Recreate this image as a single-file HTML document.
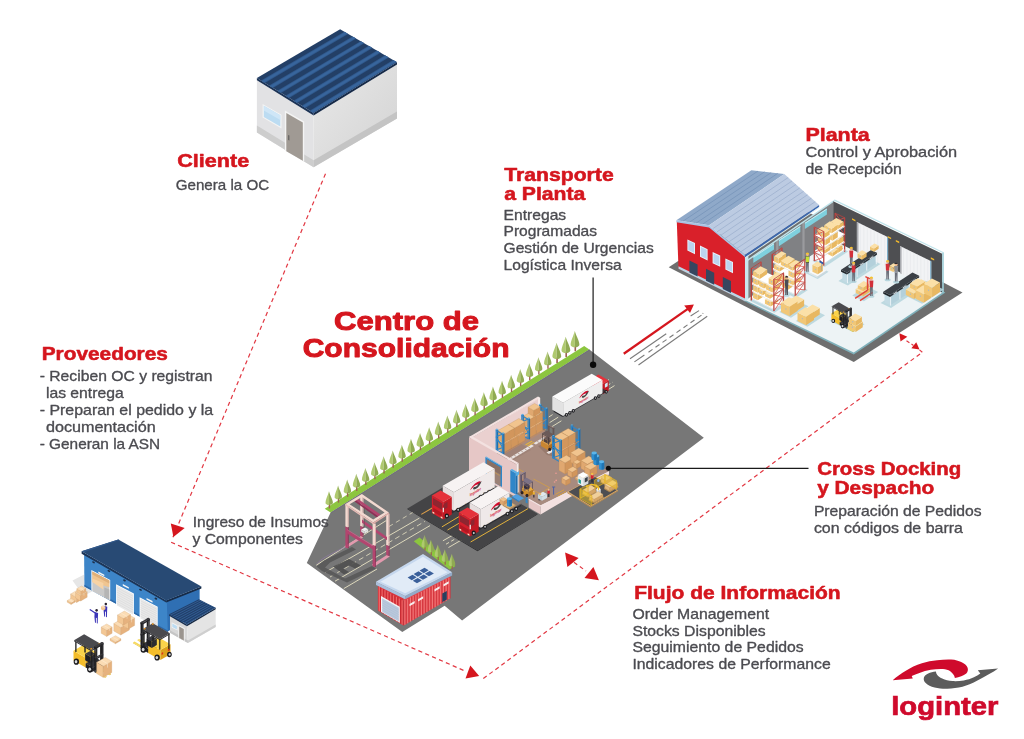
<!DOCTYPE html>
<html><head><meta charset="utf-8"><title>Centro de Consolidación</title>
<style>
html,body{margin:0;padding:0;background:#fff;}
body{width:1024px;height:739px;overflow:hidden;font-family:"Liberation Sans",sans-serif;}
svg{display:block;font-family:"Liberation Sans",sans-serif;}
</style></head><body>
<svg width="1024" height="739" viewBox="0 0 1024 739">
<rect width="1024" height="739" fill="#ffffff"/>
<line x1="325.50" y1="173.75" x2="172.60" y2="538.00" stroke="#e23843" stroke-width="1.2" stroke-dasharray="4.2 3.3"/>
<line x1="171.10" y1="542.20" x2="464.50" y2="670.80" stroke="#e23843" stroke-width="1.2" stroke-dasharray="4.2 3.3"/>
<line x1="483.30" y1="678.60" x2="922.30" y2="352.20" stroke="#e23843" stroke-width="1.2" stroke-dasharray="4.2 3.3"/>
<polygon points="170.80,523.40 184.70,528.10 173.40,537.00" fill="#d5161e"/>
<polygon points="470.30,665.40 479.20,675.90 465.50,678.60" fill="#d5161e"/>
<polygon points="899.40,333.25 907.30,336.70 900.50,341.40" fill="#d5161e"/>
<polygon points="919.50,349.40 916.25,342.30 911.40,348.25" fill="#d5161e"/>
<line x1="906.50" y1="340.70" x2="913.50" y2="345.40" stroke="#e23843" stroke-width="1.2" stroke-dasharray="3.5 2.5"/>
<line x1="919.50" y1="349.90" x2="922.30" y2="352.20" stroke="#e23843" stroke-width="1.2"/>
<polygon points="565.10,552.50 578.60,557.90 567.40,567.00" fill="#d5161e"/>
<polygon points="598.90,580.20 593.40,567.00 584.50,578.00" fill="#d5161e"/>
<line x1="574.00" y1="562.30" x2="586.00" y2="571.00" stroke="#e23843" stroke-width="1.2" stroke-dasharray="4 3.2"/>
<line x1="623.75" y1="353.75" x2="688.20" y2="308.60" stroke="#d5161e" stroke-width="2.3"/>
<polygon points="684.20,305.60 693.90,304.60 690.00,312.90" fill="#d5161e"/>
<line x1="630.00" y1="358.75" x2="666.25" y2="333.75" stroke="#7a7a7a" stroke-width="1.1"/>
<line x1="690.60" y1="316.00" x2="699.00" y2="310.60" stroke="#7a7a7a" stroke-width="1.1"/>
<path d="M634.4 361.9 L644.4 355 M648.5 352.2 L652.5 349.4 M655.5 347.3 L659.5 344.5 M662.5 342.4 L666.5 339.6 M669.5 337.5 L673.5 334.7 M676.5 332.6 L680.5 329.8 M683.5 327.7 L687.5 324.9 M690.5 322.8 L694.5 320 M697.5 317.9 L701.5 315.1 M702.6 313.6 L703.3 313.1" stroke="#7a7a7a" stroke-width="1.1" fill="none"/>
<line x1="638.50" y1="365.00" x2="707.25" y2="316.25" stroke="#7a7a7a" stroke-width="1.1"/>
<polygon points="256.90,80.30 313.60,115.40 313.60,167.30 256.90,132.60" fill="#e2e2e4"/>
<defs><linearGradient id="cgr" x1="0" y1="0" x2="1" y2="1"><stop offset="0" stop-color="#e9e9e9"/><stop offset="1" stop-color="#d2d2d2"/></linearGradient></defs>
<polygon points="313.60,115.40 397.00,64.50 397.00,118.50 313.60,167.30" fill="url(#cgr)"/>
<polygon points="256.90,125.60 313.60,160.30 313.60,167.30 256.90,132.60" fill="#cdcdcd"/>
<polygon points="313.60,160.30 397.00,111.50 397.00,118.50 313.60,167.30" fill="#c4c4c4"/>
<polygon points="262.60,103.90 281.50,114.80 281.50,128.40 262.60,117.50" fill="#f4f4f4"/>
<polygon points="263.80,105.80 280.30,115.30 280.30,126.60 263.80,117.10" fill="#bcdcf2"/>
<polygon points="263.80,105.80 280.30,115.30 280.30,120.00 263.80,110.50" fill="#cfe6f7"/>
<polygon points="284.90,110.50 304.20,121.40 304.20,161.50 284.90,150.40" fill="#f4f4f4"/>
<polygon points="286.30,112.90 302.80,122.40 302.80,160.70 286.30,151.20" fill="#a09a94"/>
<polygon points="288.30,135.00 289.30,135.60 289.30,140.60 288.30,140.00" fill="#555"/>
<polygon points="256.90,78.00 313.60,113.10 313.60,115.40 256.90,80.30" fill="#1c3356"/>
<polygon points="313.60,113.10 397.00,62.20 397.00,64.50 313.60,115.40" fill="#162a48"/>
<polygon points="340.10,29.30 397.00,62.20 313.60,113.10 256.90,78.00" fill="#233f66"/>
<polygon points="261.11,80.61 264.84,82.91 348.07,33.91 344.33,31.74" fill="#315a8e"/>
<polygon points="261.92,81.11 264.03,82.41 347.25,33.44 345.14,32.21" fill="#38659c"/>
<polygon points="269.21,85.62 272.94,87.93 356.19,38.61 352.46,36.44" fill="#315a8e"/>
<polygon points="270.02,86.12 272.13,87.43 355.38,38.14 353.27,36.91" fill="#38659c"/>
<polygon points="277.31,90.64 281.04,92.94 364.32,43.31 360.58,41.14" fill="#315a8e"/>
<polygon points="278.12,91.14 280.23,92.44 363.51,42.84 361.40,41.61" fill="#38659c"/>
<polygon points="285.41,95.65 289.14,97.96 372.45,48.01 368.71,45.84" fill="#315a8e"/>
<polygon points="286.22,96.15 288.33,97.46 371.64,47.54 369.53,46.31" fill="#38659c"/>
<polygon points="293.51,100.66 297.24,102.97 380.58,52.71 376.84,50.54" fill="#315a8e"/>
<polygon points="294.32,101.17 296.43,102.47 379.77,52.24 377.65,51.01" fill="#38659c"/>
<polygon points="301.61,105.68 305.34,107.99 388.71,57.41 384.97,55.24" fill="#315a8e"/>
<polygon points="302.42,106.18 304.53,107.48 387.90,56.94 385.78,55.71" fill="#38659c"/>
<polygon points="309.71,110.69 313.44,113.00 396.84,62.11 393.10,59.94" fill="#315a8e"/>
<polygon points="310.52,111.19 312.63,112.50 396.02,61.64 393.91,60.41" fill="#38659c"/>
<polygon points="72.50,580.60 84.20,574.40 84.40,586.60 92.50,591.20 86.50,594.50 80.00,591.00" fill="#e6e6e6"/>
<polygon points="165.80,600.60 199.60,587.40 199.60,612.00 167.00,632.00" fill="#2f6fb3"/>
<polygon points="84.10,553.00 166.80,600.80 167.80,632.00 84.40,586.40" fill="#3d85c8"/>
<polygon points="84.40,584.80 167.80,630.40 167.80,632.00 84.40,586.40" fill="#2d68a8"/>
<polygon points="91.40,570.10 110.20,580.00 110.20,600.30 91.40,590.50" fill="#ffffff"/>
<polygon points="92.30,571.40 109.30,580.40 109.30,599.80 92.30,590.90" fill="#c9c9c9"/>
<polygon points="92.30,571.40 109.30,580.40 109.30,587.19 92.30,582.12" fill="#f0c590"/>
<polygon points="92.30,571.40 109.30,580.40 109.30,583.40 92.30,574.40" fill="#e0b07a"/>
<polygon points="92.30,578.40 103.30,582.90 103.30,589.40 92.30,582.12" fill="#f7d3a5"/>
<polygon points="104.30,587.40 109.30,589.40 109.30,599.80 104.30,597.30" fill="#b5b5b5"/>
<polygon points="116.10,584.20 133.90,593.50 133.90,615.10 116.10,605.20" fill="#ffffff"/>
<polygon points="117.00,585.50 133.00,593.90 133.00,614.60 117.00,605.60" fill="#e9e9e9"/>
<line x1="117.00" y1="587.73" x2="133.00" y2="596.20" stroke="#d2d2d2" stroke-width="0.45"/>
<line x1="117.00" y1="589.97" x2="133.00" y2="598.50" stroke="#d2d2d2" stroke-width="0.45"/>
<line x1="117.00" y1="592.20" x2="133.00" y2="600.80" stroke="#d2d2d2" stroke-width="0.45"/>
<line x1="117.00" y1="594.43" x2="133.00" y2="603.10" stroke="#d2d2d2" stroke-width="0.45"/>
<line x1="117.00" y1="596.67" x2="133.00" y2="605.40" stroke="#d2d2d2" stroke-width="0.45"/>
<line x1="117.00" y1="598.90" x2="133.00" y2="607.70" stroke="#d2d2d2" stroke-width="0.45"/>
<line x1="117.00" y1="601.13" x2="133.00" y2="610.00" stroke="#d2d2d2" stroke-width="0.45"/>
<line x1="117.00" y1="603.37" x2="133.00" y2="612.30" stroke="#d2d2d2" stroke-width="0.45"/>
<polygon points="139.60,597.30 157.70,606.70 157.70,627.10 139.60,618.00" fill="#ffffff"/>
<polygon points="140.50,598.60 156.80,607.10 156.80,626.60 140.50,618.40" fill="#e9e9e9"/>
<line x1="140.50" y1="600.80" x2="156.80" y2="609.27" stroke="#d2d2d2" stroke-width="0.45"/>
<line x1="140.50" y1="603.00" x2="156.80" y2="611.43" stroke="#d2d2d2" stroke-width="0.45"/>
<line x1="140.50" y1="605.20" x2="156.80" y2="613.60" stroke="#d2d2d2" stroke-width="0.45"/>
<line x1="140.50" y1="607.40" x2="156.80" y2="615.77" stroke="#d2d2d2" stroke-width="0.45"/>
<line x1="140.50" y1="609.60" x2="156.80" y2="617.93" stroke="#d2d2d2" stroke-width="0.45"/>
<line x1="140.50" y1="611.80" x2="156.80" y2="620.10" stroke="#d2d2d2" stroke-width="0.45"/>
<line x1="140.50" y1="614.00" x2="156.80" y2="622.27" stroke="#d2d2d2" stroke-width="0.45"/>
<line x1="140.50" y1="616.20" x2="156.80" y2="624.43" stroke="#d2d2d2" stroke-width="0.45"/>
<polygon points="98.30,571.60 104.30,574.70 104.30,576.30 98.30,573.20" fill="#f7f7f7"/>
<polygon points="122.80,584.10 128.80,587.20 128.80,588.80 122.80,585.70" fill="#f7f7f7"/>
<polygon points="146.50,598.00 152.50,601.10 152.50,602.70 146.50,599.60" fill="#f7f7f7"/>
<ellipse cx="93.50" cy="562.30" rx="1.50" ry="0.90" fill="#1d2f4a" transform="rotate(28 93.50 562.30)"/>
<ellipse cx="108.90" cy="571.00" rx="1.50" ry="0.90" fill="#1d2f4a" transform="rotate(28 108.90 571.00)"/>
<ellipse cx="124.50" cy="580.40" rx="1.50" ry="0.90" fill="#1d2f4a" transform="rotate(28 124.50 580.40)"/>
<ellipse cx="140.50" cy="589.80" rx="1.50" ry="0.90" fill="#1d2f4a" transform="rotate(28 140.50 589.80)"/>
<ellipse cx="155.90" cy="598.60" rx="1.50" ry="0.90" fill="#1d2f4a" transform="rotate(28 155.90 598.60)"/>
<polygon points="81.60,551.20 166.20,600.50 166.20,602.50 81.60,553.80" fill="#1d3557"/>
<polygon points="166.20,600.50 201.40,586.40 201.40,588.60 166.20,602.50" fill="#172b47"/>
<polygon points="81.60,551.20 118.30,539.40 201.40,586.40 166.20,600.50" fill="#284a74"/>
<polygon points="81.60,551.20 118.30,539.40 119.50,540.10 83.80,552.20" fill="#31588a"/>
<polygon points="170.00,615.60 186.90,625.40 187.90,643.00 170.00,632.70" fill="#d9d9d9"/>
<polygon points="186.90,625.40 215.70,609.20 215.70,627.00 187.90,643.00" fill="#e4e4e4"/>
<polygon points="170.00,630.20 187.90,640.40 187.90,643.00 170.00,632.70" fill="#c6c6c6"/>
<polygon points="187.90,640.40 215.70,624.40 215.70,627.00 187.90,643.00" fill="#cfcfcf"/>
<polygon points="171.60,622.20 177.60,625.30 177.60,630.60 171.60,627.60" fill="#f4f4f4"/>
<polygon points="172.30,623.50 176.90,625.90 176.90,629.50 172.30,627.10" fill="#bcdcf2"/>
<polygon points="178.30,625.00 184.60,628.30 184.60,641.30 178.30,637.80" fill="#f4f4f4"/>
<polygon points="179.20,626.60 183.80,629.00 183.80,640.60 179.20,638.00" fill="#9b958f"/>
<polygon points="169.10,614.20 186.90,624.60 186.90,626.20 169.10,615.80" fill="#1a3152"/>
<polygon points="186.90,624.60 215.70,607.70 215.70,609.30 186.90,626.20" fill="#152843"/>
<polygon points="169.10,614.20 198.80,599.20 215.70,607.70 186.90,624.60" fill="#22406a"/>
<polygon points="170.21,614.85 171.10,615.37 200.70,600.16 199.86,599.73" fill="#335e95"/>
<polygon points="172.44,616.15 173.33,616.67 202.81,601.22 201.97,600.79" fill="#335e95"/>
<polygon points="174.66,617.45 175.55,617.97 204.93,602.28 204.08,601.86" fill="#335e95"/>
<polygon points="176.89,618.75 177.78,619.27 207.04,603.34 206.19,602.92" fill="#335e95"/>
<polygon points="179.11,620.05 180.00,620.57 209.15,604.41 208.31,603.98" fill="#335e95"/>
<polygon points="181.34,621.35 182.23,621.87 211.26,605.47 210.42,605.04" fill="#335e95"/>
<polygon points="183.56,622.65 184.45,623.17 213.38,606.53 212.53,606.11" fill="#335e95"/>
<polygon points="185.79,623.95 186.68,624.47 215.49,607.59 214.64,607.17" fill="#335e95"/>
<polygon points="70.60,599.00 76.66,602.50 76.66,597.50 70.60,594.00" fill="#f3c794" stroke="#ca9c6e" stroke-width="0.25"/>
<polygon points="76.66,602.50 82.72,599.00 82.72,594.00 76.66,597.50" fill="#e6b27e" stroke="#ca9c6e" stroke-width="0.25"/>
<polygon points="70.60,594.00 76.66,590.50 82.72,594.00 76.66,597.50" fill="#fbdcb4" stroke="#ca9c6e" stroke-width="0.25"/>
<polyline points="73.63,592.25 79.69,595.75 79.69,597.50" fill="none" stroke="#fff3e0" stroke-width="0.50" opacity="0.8"/>
<polygon points="75.50,598.00 80.70,601.00 80.70,595.50 75.50,592.50" fill="#f3c794" stroke="#ca9c6e" stroke-width="0.25"/>
<polygon points="80.70,601.00 87.19,597.25 87.19,591.75 80.70,595.50" fill="#e6b27e" stroke="#ca9c6e" stroke-width="0.25"/>
<polygon points="75.50,592.50 82.00,588.75 87.19,591.75 80.70,595.50" fill="#fbdcb4" stroke="#ca9c6e" stroke-width="0.25"/>
<polyline points="78.75,590.62 83.94,593.62 83.94,595.55" fill="none" stroke="#fff3e0" stroke-width="0.50" opacity="0.8"/>
<polygon points="76.80,592.25 81.13,594.75 81.13,591.25 76.80,588.75" fill="#f3c794" stroke="#ca9c6e" stroke-width="0.25"/>
<polygon points="81.13,594.75 85.89,592.00 85.89,588.50 81.13,591.25" fill="#e6b27e" stroke="#ca9c6e" stroke-width="0.25"/>
<polygon points="76.80,588.75 81.56,586.00 85.89,588.50 81.13,591.25" fill="#fbdcb4" stroke="#ca9c6e" stroke-width="0.25"/>
<polyline points="79.18,587.38 83.51,589.88 83.51,591.10" fill="none" stroke="#fff3e0" stroke-width="0.50" opacity="0.8"/>
<polygon points="67.20,602.20 71.10,604.45 71.10,602.85 67.20,600.60" fill="#f3c794" stroke="#ca9c6e" stroke-width="0.25"/>
<polygon points="71.10,604.45 74.99,602.20 74.99,600.60 71.10,602.85" fill="#e6b27e" stroke="#ca9c6e" stroke-width="0.25"/>
<polygon points="67.20,600.60 71.10,598.35 74.99,600.60 71.10,602.85" fill="#fbdcb4" stroke="#ca9c6e" stroke-width="0.25"/>
<polyline points="69.15,599.48 73.05,601.73 73.05,602.29" fill="none" stroke="#fff3e0" stroke-width="0.50" opacity="0.8"/>
<path d="M95.00 622.60 l0.9 0.3 l0 -5.2 l0.9 0.2 l0 5.4 l0.9 0.2 l0.2 -6 l0.2 -4.6 l-3.4 -0.9 l-0.3 4.8 Z" fill="#3b35b8"/>
<ellipse cx="96.60" cy="610.30" rx="1.25" ry="1.40" fill="#2b2330"/>
<line x1="95.20" y1="613.00" x2="90.20" y2="609.80" stroke="#3b35b8" stroke-width="1.3" stroke-linecap="round"/>
<path d="M104.20 616.40 l0.9 0.3 l0 -5.2 l0.9 0.2 l0 5.4 l0.9 0.2 l0.2 -6 l0.2 -4.6 l-3.4 -0.9 l-0.3 4.8 Z" fill="#3b35b8"/>
<ellipse cx="105.80" cy="604.10" rx="1.25" ry="1.40" fill="#2b2330"/>
<polygon points="101.00,606.80 103.00,605.60 105.40,606.90 105.40,609.20 103.20,610.40 101.00,609.20" fill="#f3c794"/>
<polygon points="101.00,606.80 103.00,605.60 105.40,606.90 103.20,608.10" fill="#fbdcb4"/>
<polygon points="113.80,631.00 120.73,635.00 120.73,627.50 113.80,623.50" fill="#f3c794" stroke="#ca9c6e" stroke-width="0.25"/>
<polygon points="120.73,635.00 129.39,630.00 129.39,622.50 120.73,627.50" fill="#e6b27e" stroke="#ca9c6e" stroke-width="0.25"/>
<polygon points="113.80,623.50 122.46,618.50 129.39,622.50 120.73,627.50" fill="#fbdcb4" stroke="#ca9c6e" stroke-width="0.25"/>
<polyline points="118.13,621.00 125.06,625.00 125.06,627.62" fill="none" stroke="#fff3e0" stroke-width="0.50" opacity="0.8"/>
<polygon points="122.50,625.50 128.56,629.00 128.56,621.50 122.50,618.00" fill="#f3c794" stroke="#ca9c6e" stroke-width="0.25"/>
<polygon points="128.56,629.00 134.62,625.50 134.62,618.00 128.56,621.50" fill="#e6b27e" stroke="#ca9c6e" stroke-width="0.25"/>
<polygon points="122.50,618.00 128.56,614.50 134.62,618.00 128.56,621.50" fill="#fbdcb4" stroke="#ca9c6e" stroke-width="0.25"/>
<polyline points="125.53,616.25 131.59,619.75 131.59,622.38" fill="none" stroke="#fff3e0" stroke-width="0.50" opacity="0.8"/>
<polygon points="117.50,621.50 123.56,625.00 123.56,618.50 117.50,615.00" fill="#f3c794" stroke="#ca9c6e" stroke-width="0.25"/>
<polygon points="123.56,625.00 130.49,621.00 130.49,614.50 123.56,618.50" fill="#e6b27e" stroke="#ca9c6e" stroke-width="0.25"/>
<polygon points="117.50,615.00 124.43,611.00 130.49,614.50 123.56,618.50" fill="#fbdcb4" stroke="#ca9c6e" stroke-width="0.25"/>
<polyline points="120.96,613.00 127.03,616.50 127.03,618.77" fill="none" stroke="#fff3e0" stroke-width="0.50" opacity="0.8"/>
<polygon points="101.20,633.30 106.66,636.45 106.66,630.25 101.20,627.10" fill="#f3c794" stroke="#ca9c6e" stroke-width="0.25"/>
<polygon points="106.66,636.45 112.11,633.30 112.11,627.10 106.66,630.25" fill="#e6b27e" stroke="#ca9c6e" stroke-width="0.25"/>
<polygon points="101.20,627.10 106.66,623.95 112.11,627.10 106.66,630.25" fill="#fbdcb4" stroke="#ca9c6e" stroke-width="0.25"/>
<polyline points="103.93,625.52 109.38,628.67 109.38,630.85" fill="none" stroke="#fff3e0" stroke-width="0.50" opacity="0.8"/>
<polygon points="110.00,640.60 115.46,643.75 115.46,641.95 110.00,638.80" fill="#f3c794" stroke="#ca9c6e" stroke-width="0.25"/>
<polygon points="115.46,643.75 120.91,640.60 120.91,638.80 115.46,641.95" fill="#e6b27e" stroke="#ca9c6e" stroke-width="0.25"/>
<polygon points="110.00,638.80 115.46,635.65 120.91,638.80 115.46,641.95" fill="#fbdcb4" stroke="#ca9c6e" stroke-width="0.25"/>
<polyline points="112.73,637.23 118.18,640.38 118.18,641.01" fill="none" stroke="#fff3e0" stroke-width="0.50" opacity="0.8"/>
<polygon points="133.02,643.25 141.63,648.22 141.63,647.40 133.02,642.43" fill="#e9c23a"/>
<polygon points="141.63,648.22 143.15,647.34 143.15,646.52 141.63,647.40" fill="#d8aa20"/>
<polygon points="133.02,642.43 134.54,641.55 143.15,646.52 141.63,647.40" fill="#f7d95a"/>
<polygon points="137.58,640.62 146.19,645.59 146.19,644.77 137.58,639.80" fill="#e9c23a"/>
<polygon points="146.19,645.59 147.71,644.71 147.71,643.89 146.19,644.77" fill="#d8aa20"/>
<polygon points="137.58,639.80 139.10,638.92 147.71,643.89 146.19,644.77" fill="#f7d95a"/>
<polygon points="140.52,648.04 142.04,648.92 142.04,623.18 140.52,622.30" fill="#1e1e22"/>
<polygon points="142.04,648.92 143.56,648.04 143.56,622.30 142.04,623.18" fill="#2a2a2e"/>
<polygon points="140.52,622.30 142.04,621.43 143.56,622.30 142.04,623.18" fill="#3a3a3e"/>
<polygon points="146.70,644.48 148.22,645.35 148.22,619.61 146.70,618.74" fill="#1e1e22"/>
<polygon points="148.22,645.35 149.74,644.48 149.74,618.74 148.22,619.61" fill="#2a2a2e"/>
<polygon points="146.70,618.74 148.22,617.86 149.74,618.74 148.22,619.61" fill="#3a3a3e"/>
<polygon points="140.52,624.06 142.04,624.94 142.04,623.18 140.52,622.30" fill="#1e1e22"/>
<polygon points="142.04,624.94 149.74,620.49 149.74,618.74 142.04,623.18" fill="#2a2a2e"/>
<polygon points="140.52,622.30 148.22,617.86 149.74,618.74 142.04,623.18" fill="#3a3a3e"/>
<polygon points="140.52,635.17 141.73,635.88 141.73,634.47 140.52,633.77" fill="#1e1e22"/>
<polygon points="141.73,635.88 149.44,631.43 149.44,630.03 141.73,634.47" fill="#2a2a2e"/>
<polygon points="140.52,633.77 148.22,629.33 149.44,630.03 141.73,634.47" fill="#3a3a3e"/>
<polygon points="141.13,648.86 148.22,652.96 148.22,648.86 141.13,644.77" fill="#1f1f24"/>
<polygon points="148.22,652.96 158.35,647.11 158.35,643.01 148.22,648.86" fill="#2a2a2e"/>
<polygon points="141.13,644.77 151.26,638.92 158.35,643.01 148.22,648.86" fill="#34343a"/>
<polygon points="148.22,652.96 160.38,659.98 160.38,650.03 148.22,643.01" fill="#f4bd2a"/>
<polygon points="160.38,659.98 170.51,654.13 170.51,644.18 160.38,650.03" fill="#dda21c"/>
<polygon points="148.22,643.01 158.35,637.16 170.51,644.18 160.38,650.03" fill="#fbd34a"/>
<polygon points="146.70,645.06 151.77,647.99 151.77,641.55 146.70,638.63" fill="#1f1f24"/>
<polygon points="151.77,647.99 156.83,645.06 156.83,638.63 151.77,641.55" fill="#2b2b30"/>
<polygon points="146.70,638.63 151.77,635.70 156.83,638.63 151.77,641.55" fill="#3a3a40"/>
<polygon points="152.47,640.91 153.18,641.32 153.18,625.52 152.47,625.11" fill="#1a1a1a"/>
<polygon points="153.18,641.32 153.89,640.91 153.89,625.11 153.18,625.52" fill="#222"/>
<polygon points="152.47,625.11 153.18,624.70 153.89,625.11 153.18,625.52" fill="#333"/>
<polygon points="168.18,649.98 168.89,650.38 168.89,634.59 168.18,634.18" fill="#1a1a1a"/>
<polygon points="168.89,650.38 169.60,649.98 169.60,634.18 168.89,634.59" fill="#222"/>
<polygon points="168.18,634.18 168.89,633.77 169.60,634.18 168.89,634.59" fill="#333"/>
<polygon points="143.25,646.23 143.96,646.64 143.96,630.85 143.25,630.44" fill="#1a1a1a"/>
<polygon points="143.96,646.64 144.67,646.23 144.67,630.44 143.96,630.85" fill="#222"/>
<polygon points="143.25,630.44 143.96,630.03 144.67,630.44 143.96,630.85" fill="#333"/>
<polygon points="158.96,649.45 159.67,649.86 159.67,639.91 158.96,639.50" fill="#1a1a1a"/>
<polygon points="159.67,649.86 160.38,649.45 160.38,639.50 159.67,639.91" fill="#222"/>
<polygon points="158.96,639.50 159.67,639.09 160.38,639.50 159.67,639.91" fill="#333"/>
<polygon points="142.65,630.20 159.87,640.15 159.87,638.98 142.65,629.03" fill="#2a2a2e"/>
<polygon points="159.87,640.15 170.00,634.30 170.00,633.13 159.87,638.98" fill="#333337"/>
<polygon points="142.65,629.03 152.78,623.18 170.00,633.13 159.87,638.98" fill="#4a4a4e"/>
<ellipse cx="144.67" cy="628.80" rx="1.05" ry="0.82" fill="#f39a1e"/>
<ellipse cx="152.78" cy="624.12" rx="1.05" ry="0.82" fill="#f39a1e"/>
<polygon points="161.61,654.96 163.13,654.08 163.13,652.09 161.61,652.97" fill="#e0301e"/>
<polygon points="167.90,651.33 169.42,650.46 169.42,648.47 167.90,649.34" fill="#e0301e"/>
<ellipse cx="143.46" cy="649.39" rx="2.91" ry="3.32" fill="#1b1b1f"/>
<ellipse cx="143.14" cy="649.39" rx="1.42" ry="1.74" fill="#d9d9d9"/>
<ellipse cx="157.14" cy="657.52" rx="2.69" ry="3.07" fill="#1b1b1f"/>
<ellipse cx="156.84" cy="657.52" rx="1.32" ry="1.61" fill="#d9d9d9"/>
<ellipse cx="169.40" cy="654.54" rx="2.34" ry="2.69" fill="#1b1b1f"/>
<ellipse cx="169.63" cy="654.54" rx="1.05" ry="1.29" fill="#d9d9d9"/>
<polygon points="73.50,660.59 85.66,667.61 85.66,657.67 73.50,650.65" fill="#f4bd2a"/>
<polygon points="85.66,667.61 95.79,661.76 95.79,651.82 85.66,657.67" fill="#dda21c"/>
<polygon points="73.50,650.65 83.63,644.80 95.79,651.82 85.66,657.67" fill="#fbd34a"/>
<polygon points="85.66,667.61 92.75,671.71 92.75,667.61 85.66,663.52" fill="#1f1f24"/>
<polygon points="92.75,671.71 102.88,665.86 102.88,661.76 92.75,667.61" fill="#2a2a2e"/>
<polygon points="85.66,663.52 95.79,657.67 102.88,661.76 92.75,667.61" fill="#34343a"/>
<polygon points="85.15,660.30 90.22,663.23 90.22,656.79 85.15,653.87" fill="#1f1f24"/>
<polygon points="90.22,663.23 95.28,660.30 95.28,653.87 90.22,656.79" fill="#2b2b30"/>
<polygon points="85.15,653.87 90.22,650.94 95.28,653.87 90.22,656.79" fill="#3a3a40"/>
<polygon points="84.34,652.35 85.05,652.75 85.05,636.96 84.34,636.55" fill="#1a1a1a"/>
<polygon points="85.05,652.75 85.76,652.35 85.76,636.55 85.05,636.96" fill="#222"/>
<polygon points="84.34,636.55 85.05,636.14 85.76,636.55 85.05,636.96" fill="#333"/>
<polygon points="100.05,661.41 100.76,661.82 100.76,646.03 100.05,645.62" fill="#1a1a1a"/>
<polygon points="100.76,661.82 101.47,661.41 101.47,645.62 100.76,646.03" fill="#222"/>
<polygon points="100.05,645.62 100.76,645.21 101.47,645.62 100.76,646.03" fill="#333"/>
<polygon points="75.12,651.82 75.83,652.23 75.83,642.28 75.12,641.87" fill="#1a1a1a"/>
<polygon points="75.83,652.23 76.54,651.82 76.54,641.87 75.83,642.28" fill="#222"/>
<polygon points="75.12,641.87 75.83,641.46 76.54,641.87 75.83,642.28" fill="#333"/>
<polygon points="90.83,666.74 91.54,667.15 91.54,651.35 90.83,650.94" fill="#1a1a1a"/>
<polygon points="91.54,667.15 92.25,666.74 92.25,650.94 91.54,651.35" fill="#222"/>
<polygon points="90.83,650.94 91.54,650.53 92.25,650.94 91.54,651.35" fill="#333"/>
<polygon points="74.01,641.35 91.23,651.29 91.23,650.12 74.01,640.18" fill="#2a2a2e"/>
<polygon points="91.23,651.29 101.36,645.44 101.36,644.27 91.23,650.12" fill="#333337"/>
<polygon points="74.01,640.18 84.14,634.33 101.36,644.27 91.23,650.12" fill="#4a4a4e"/>
<ellipse cx="91.23" cy="648.72" rx="1.05" ry="0.82" fill="#f39a1e"/>
<ellipse cx="99.34" cy="644.04" rx="1.05" ry="0.82" fill="#f39a1e"/>
<ellipse cx="76.34" cy="661.65" rx="2.69" ry="3.07" fill="#1b1b1f"/>
<ellipse cx="76.04" cy="661.65" rx="1.32" ry="1.61" fill="#d9d9d9"/>
<ellipse cx="90.02" cy="669.31" rx="2.91" ry="3.32" fill="#1b1b1f"/>
<ellipse cx="89.70" cy="669.31" rx="1.42" ry="1.74" fill="#d9d9d9"/>
<polygon points="94.27,672.12 95.79,673.00 95.79,647.26 94.27,646.38" fill="#1e1e22"/>
<polygon points="95.79,673.00 97.31,672.12 97.31,646.38 95.79,647.26" fill="#2a2a2e"/>
<polygon points="94.27,646.38 95.79,645.50 97.31,646.38 95.79,647.26" fill="#3a3a3e"/>
<polygon points="100.45,668.55 101.97,669.43 101.97,643.69 100.45,642.81" fill="#1e1e22"/>
<polygon points="101.97,669.43 103.49,668.55 103.49,642.81 101.97,643.69" fill="#2a2a2e"/>
<polygon points="100.45,642.81 101.97,641.93 103.49,642.81 101.97,643.69" fill="#3a3a3e"/>
<polygon points="94.27,648.13 95.79,649.01 95.79,647.26 94.27,646.38" fill="#1e1e22"/>
<polygon points="95.79,649.01 103.49,644.57 103.49,642.81 95.79,647.26" fill="#2a2a2e"/>
<polygon points="94.27,646.38 101.97,641.93 103.49,642.81 95.79,647.26" fill="#3a3a3e"/>
<polygon points="94.27,659.25 95.49,659.95 95.49,658.55 94.27,657.84" fill="#1e1e22"/>
<polygon points="95.49,659.95 103.19,655.50 103.19,654.10 95.49,658.55" fill="#2a2a2e"/>
<polygon points="94.27,657.84 101.97,653.40 103.19,654.10 95.49,658.55" fill="#3a3a3e"/>
<polygon points="96.30,672.82 104.91,677.79 104.91,676.97 96.30,672.00" fill="#e9c23a"/>
<polygon points="104.91,677.79 106.43,676.92 106.43,676.10 104.91,676.97" fill="#d8aa20"/>
<polygon points="96.30,672.00 97.82,671.12 106.43,676.10 104.91,676.97" fill="#f7d95a"/>
<polygon points="100.86,670.19 109.47,675.16 109.47,674.34 100.86,669.37" fill="#e9c23a"/>
<polygon points="109.47,675.16 110.99,674.28 110.99,673.46 109.47,674.34" fill="#d8aa20"/>
<polygon points="100.86,669.37 102.38,668.49 110.99,673.46 109.47,674.34" fill="#f7d95a"/>
<polygon points="96.60,673.58 103.19,677.38 103.19,666.15 96.60,662.35" fill="#f3c794" stroke="#ca9c6e" stroke-width="0.25"/>
<polygon points="103.19,677.38 111.80,672.41 111.80,661.18 103.19,666.15" fill="#e6b27e" stroke="#ca9c6e" stroke-width="0.25"/>
<polygon points="96.60,662.35 105.21,657.38 111.80,661.18 103.19,666.15" fill="#fbdcb4" stroke="#ca9c6e" stroke-width="0.25"/>
<polyline points="100.91,659.86 107.49,663.67 107.49,667.60" fill="none" stroke="#fff3e0" stroke-width="0.58" opacity="0.8"/>
<polygon points="330.60,512.50 589.30,349.40 703.80,437.70 462.10,620.50 444.60,605.80 402.30,631.90 306.80,563.00" fill="#777777"/>
<polygon points="324.75,508.75 584.20,346.00 589.30,349.40 330.60,512.50" fill="#8cc63f"/>
<polygon points="330.60,512.50 589.30,349.40 589.90,349.90 331.20,513.00" fill="#6d6a80"/>
<polygon points="328.71,508.40 330.09,508.40 330.09,503.74 328.71,503.74" fill="#9c6353"/>
<path d="M328.98 491.23 C327.70 496.00 325.27 499.92 325.48 503.31 C326.22 504.80 327.92 505.11 329.08 505.01 Z" fill="#afc96f"/>
<path d="M328.98 491.23 C330.25 496.00 333.00 499.71 332.90 503.10 C332.37 504.58 330.46 505.11 329.08 505.01 Z" fill="#8faa52"/>
<polygon points="337.82,502.58 339.20,502.58 339.20,497.92 337.82,497.92" fill="#9c6353"/>
<path d="M338.08 485.41 C336.81 490.18 334.37 494.10 334.58 497.49 C335.33 498.98 337.02 499.29 338.19 499.19 Z" fill="#afc96f"/>
<path d="M338.08 485.41 C339.35 490.18 342.11 493.89 342.00 497.28 C341.47 498.76 339.57 499.29 338.19 499.19 Z" fill="#8faa52"/>
<polygon points="346.92,496.76 348.30,496.76 348.30,492.10 346.92,492.10" fill="#9c6353"/>
<path d="M347.19 479.59 C345.92 484.36 343.48 488.28 343.69 491.67 C344.43 493.16 346.13 493.47 347.30 493.37 Z" fill="#afc96f"/>
<path d="M347.19 479.59 C348.46 484.36 351.22 488.07 351.11 491.46 C350.58 492.94 348.67 493.47 347.30 493.37 Z" fill="#8faa52"/>
<polygon points="356.03,490.94 357.41,490.94 357.41,486.28 356.03,486.28" fill="#9c6353"/>
<path d="M356.30 473.77 C355.03 478.54 352.59 482.46 352.80 485.85 C353.54 487.34 355.24 487.65 356.40 487.55 Z" fill="#afc96f"/>
<path d="M356.30 473.77 C357.57 478.54 360.32 482.25 360.22 485.64 C359.69 487.12 357.78 487.65 356.40 487.55 Z" fill="#8faa52"/>
<polygon points="365.14,485.12 366.52,485.12 366.52,480.46 365.14,480.46" fill="#9c6353"/>
<path d="M365.40 467.95 C364.13 472.72 361.69 476.64 361.91 480.03 C362.65 481.52 364.34 481.83 365.51 481.73 Z" fill="#afc96f"/>
<path d="M365.40 467.95 C366.68 472.72 369.43 476.43 369.33 479.82 C368.80 481.30 366.89 481.83 365.51 481.73 Z" fill="#8faa52"/>
<polygon points="374.25,479.30 375.62,479.30 375.62,474.64 374.25,474.64" fill="#9c6353"/>
<path d="M374.51 462.13 C373.24 466.90 370.80 470.82 371.01 474.21 C371.75 475.70 373.45 476.01 374.62 475.91 Z" fill="#afc96f"/>
<path d="M374.51 462.13 C375.78 466.90 378.54 470.61 378.43 474.00 C377.90 475.48 375.99 476.01 374.62 475.91 Z" fill="#8faa52"/>
<polygon points="383.35,473.48 384.73,473.48 384.73,468.82 383.35,468.82" fill="#9c6353"/>
<path d="M383.62 456.31 C382.35 461.08 379.91 465.00 380.12 468.39 C380.86 469.88 382.56 470.19 383.72 470.09 Z" fill="#afc96f"/>
<path d="M383.62 456.31 C384.89 461.08 387.65 464.79 387.54 468.18 C387.01 469.66 385.10 470.19 383.72 470.09 Z" fill="#8faa52"/>
<polygon points="392.46,467.66 393.84,467.66 393.84,463.00 392.46,463.00" fill="#9c6353"/>
<path d="M392.73 450.49 C391.45 455.26 389.01 459.18 389.23 462.57 C389.97 464.06 391.67 464.37 392.83 464.27 Z" fill="#afc96f"/>
<path d="M392.73 450.49 C394.00 455.26 396.75 458.97 396.65 462.36 C396.12 463.84 394.21 464.37 392.83 464.27 Z" fill="#8faa52"/>
<polygon points="401.57,461.84 402.94,461.84 402.94,457.18 401.57,457.18" fill="#9c6353"/>
<path d="M401.83 444.67 C400.56 449.44 398.12 453.36 398.33 456.75 C399.08 458.24 400.77 458.55 401.94 458.45 Z" fill="#afc96f"/>
<path d="M401.83 444.67 C403.10 449.44 405.86 453.15 405.75 456.54 C405.22 458.02 403.32 458.55 401.94 458.45 Z" fill="#8faa52"/>
<polygon points="410.67,456.02 412.05,456.02 412.05,451.36 410.67,451.36" fill="#9c6353"/>
<path d="M410.94 438.85 C409.67 443.62 407.23 447.54 407.44 450.93 C408.18 452.42 409.88 452.73 411.04 452.63 Z" fill="#afc96f"/>
<path d="M410.94 438.85 C412.21 443.62 414.97 447.33 414.86 450.72 C414.33 452.20 412.42 452.73 411.04 452.63 Z" fill="#8faa52"/>
<polygon points="419.78,450.20 421.16,450.20 421.16,445.54 419.78,445.54" fill="#9c6353"/>
<path d="M420.05 433.03 C418.77 437.80 416.34 441.72 416.55 445.11 C417.29 446.60 418.99 446.91 420.15 446.81 Z" fill="#afc96f"/>
<path d="M420.05 433.03 C421.32 437.80 424.07 441.51 423.97 444.90 C423.44 446.38 421.53 446.91 420.15 446.81 Z" fill="#8faa52"/>
<polygon points="428.89,444.38 430.27,444.38 430.27,439.72 428.89,439.72" fill="#9c6353"/>
<path d="M429.15 427.21 C427.88 431.98 425.44 435.90 425.65 439.29 C426.40 440.78 428.09 441.09 429.26 440.99 Z" fill="#afc96f"/>
<path d="M429.15 427.21 C430.43 431.98 433.18 435.69 433.07 439.08 C432.55 440.56 430.64 441.09 429.26 440.99 Z" fill="#8faa52"/>
<polygon points="437.99,438.56 439.37,438.56 439.37,433.90 437.99,433.90" fill="#9c6353"/>
<path d="M438.26 421.39 C436.99 426.16 434.55 430.08 434.76 433.47 C435.50 434.96 437.20 435.27 438.37 435.17 Z" fill="#afc96f"/>
<path d="M438.26 421.39 C439.53 426.16 442.29 429.87 442.18 433.26 C441.65 434.74 439.74 435.27 438.37 435.17 Z" fill="#8faa52"/>
<polygon points="447.10,432.74 448.48,432.74 448.48,428.08 447.10,428.08" fill="#9c6353"/>
<path d="M447.37 415.57 C446.09 420.34 443.66 424.26 443.87 427.65 C444.61 429.14 446.31 429.45 447.47 429.35 Z" fill="#afc96f"/>
<path d="M447.37 415.57 C448.64 420.34 451.39 424.05 451.29 427.44 C450.76 428.92 448.85 429.45 447.47 429.35 Z" fill="#8faa52"/>
<polygon points="456.21,426.92 457.59,426.92 457.59,422.26 456.21,422.26" fill="#9c6353"/>
<path d="M456.47 409.75 C455.20 414.52 452.76 418.44 452.98 421.83 C453.72 423.32 455.41 423.63 456.58 423.53 Z" fill="#afc96f"/>
<path d="M456.47 409.75 C457.75 414.52 460.50 418.23 460.40 421.62 C459.87 423.10 457.96 423.63 456.58 423.53 Z" fill="#8faa52"/>
<polygon points="465.32,421.10 466.69,421.10 466.69,416.44 465.32,416.44" fill="#9c6353"/>
<path d="M465.58 403.93 C464.31 408.70 461.87 412.62 462.08 416.01 C462.82 417.50 464.52 417.81 465.69 417.71 Z" fill="#afc96f"/>
<path d="M465.58 403.93 C466.85 408.70 469.61 412.41 469.50 415.80 C468.97 417.28 467.06 417.81 465.69 417.71 Z" fill="#8faa52"/>
<polygon points="474.42,415.28 475.80,415.28 475.80,410.62 474.42,410.62" fill="#9c6353"/>
<path d="M474.69 398.11 C473.42 402.88 470.98 406.80 471.19 410.19 C471.93 411.68 473.63 411.99 474.79 411.89 Z" fill="#afc96f"/>
<path d="M474.69 398.11 C475.96 402.88 478.72 406.59 478.61 409.98 C478.08 411.46 476.17 411.99 474.79 411.89 Z" fill="#8faa52"/>
<polygon points="483.53,409.46 484.91,409.46 484.91,404.80 483.53,404.80" fill="#9c6353"/>
<path d="M483.79 392.29 C482.52 397.06 480.08 400.98 480.30 404.37 C481.04 405.86 482.73 406.17 483.90 406.07 Z" fill="#afc96f"/>
<path d="M483.79 392.29 C485.07 397.06 487.82 400.77 487.72 404.16 C487.19 405.64 485.28 406.17 483.90 406.07 Z" fill="#8faa52"/>
<polygon points="492.64,403.64 494.01,403.64 494.01,398.98 492.64,398.98" fill="#9c6353"/>
<path d="M492.90 386.47 C491.63 391.24 489.19 395.16 489.40 398.55 C490.15 400.04 491.84 400.35 493.01 400.25 Z" fill="#afc96f"/>
<path d="M492.90 386.47 C494.17 391.24 496.93 394.95 496.82 398.34 C496.29 399.82 494.39 400.35 493.01 400.25 Z" fill="#8faa52"/>
<polygon points="501.74,397.82 503.12,397.82 503.12,393.16 501.74,393.16" fill="#9c6353"/>
<path d="M502.01 380.65 C500.74 385.42 498.30 389.34 498.51 392.73 C499.25 394.22 500.95 394.53 502.12 394.43 Z" fill="#afc96f"/>
<path d="M502.01 380.65 C503.28 385.42 506.04 389.13 505.93 392.52 C505.40 394.00 503.49 394.53 502.12 394.43 Z" fill="#8faa52"/>
<polygon points="510.85,392.00 512.23,392.00 512.23,387.34 510.85,387.34" fill="#9c6353"/>
<path d="M511.12 374.83 C509.84 379.60 507.41 383.52 507.62 386.91 C508.36 388.40 510.06 388.71 511.22 388.61 Z" fill="#afc96f"/>
<path d="M511.12 374.83 C512.39 379.60 515.14 383.31 515.04 386.70 C514.51 388.18 512.60 388.71 511.22 388.61 Z" fill="#8faa52"/>
<polygon points="519.96,386.18 521.34,386.18 521.34,381.52 519.96,381.52" fill="#9c6353"/>
<path d="M520.22 369.01 C518.95 373.78 516.51 377.70 516.72 381.09 C517.47 382.58 519.16 382.89 520.33 382.79 Z" fill="#afc96f"/>
<path d="M520.22 369.01 C521.50 373.78 524.25 377.49 524.14 380.88 C523.61 382.36 521.71 382.89 520.33 382.79 Z" fill="#8faa52"/>
<polygon points="529.06,380.36 530.44,380.36 530.44,375.70 529.06,375.70" fill="#9c6353"/>
<path d="M529.33 363.19 C528.06 367.96 525.62 371.88 525.83 375.27 C526.57 376.76 528.27 377.07 529.44 376.97 Z" fill="#afc96f"/>
<path d="M529.33 363.19 C530.60 367.96 533.36 371.67 533.25 375.06 C532.72 376.54 530.81 377.07 529.44 376.97 Z" fill="#8faa52"/>
<polygon points="538.17,374.54 539.55,374.54 539.55,369.88 538.17,369.88" fill="#9c6353"/>
<path d="M538.44 357.37 C537.16 362.14 534.73 366.06 534.94 369.45 C535.68 370.94 537.38 371.25 538.54 371.15 Z" fill="#afc96f"/>
<path d="M538.44 357.37 C539.71 362.14 542.47 365.85 542.36 369.24 C541.83 370.72 539.92 371.25 538.54 371.15 Z" fill="#8faa52"/>
<polygon points="547.28,368.72 548.66,368.72 548.66,364.06 547.28,364.06" fill="#9c6353"/>
<path d="M547.54 351.55 C546.27 356.32 543.83 360.24 544.05 363.63 C544.79 365.12 546.48 365.43 547.65 365.33 Z" fill="#afc96f"/>
<path d="M547.54 351.55 C548.82 356.32 551.57 360.03 551.47 363.42 C550.94 364.90 549.03 365.43 547.65 365.33 Z" fill="#8faa52"/>
<polygon points="556.26,362.90 557.89,362.90 557.89,357.40 556.26,357.40" fill="#9c6353"/>
<path d="M556.57 342.65 C555.07 348.27 552.20 352.90 552.45 356.90 C553.32 358.65 555.32 359.02 556.70 358.90 Z" fill="#afc96f"/>
<path d="M556.57 342.65 C558.07 348.27 561.32 352.65 561.20 356.65 C560.57 358.40 558.32 359.02 556.70 358.90 Z" fill="#8faa52"/>
<polygon points="565.37,357.08 566.99,357.08 566.99,351.58 565.37,351.58" fill="#9c6353"/>
<path d="M565.68 336.83 C564.18 342.45 561.31 347.08 561.56 351.08 C562.43 352.83 564.43 353.20 565.81 353.08 Z" fill="#afc96f"/>
<path d="M565.68 336.83 C567.18 342.45 570.43 346.83 570.31 350.83 C569.68 352.58 567.43 353.20 565.81 353.08 Z" fill="#8faa52"/>
<polygon points="574.48,351.26 576.10,351.26 576.10,345.76 574.48,345.76" fill="#9c6353"/>
<path d="M574.79 331.01 C573.29 336.63 570.41 341.26 570.66 345.26 C571.54 347.01 573.54 347.38 574.91 347.26 Z" fill="#afc96f"/>
<path d="M574.79 331.01 C576.29 336.63 579.54 341.01 579.41 345.01 C578.79 346.76 576.54 347.38 574.91 347.26 Z" fill="#8faa52"/>
<line x1="316.30" y1="565.20" x2="386.30" y2="520.50" stroke="#ddd8bc" stroke-width="1.0"/>
<line x1="325.00" y1="572.50" x2="419.40" y2="518.10" stroke="#ddd8bc" stroke-width="1.0"/>
<line x1="330.00" y1="577.00" x2="425.00" y2="521.30" stroke="#ddd8bc" stroke-width="0.9" stroke-dasharray="5 3.4"/>
<line x1="335.00" y1="581.20" x2="430.00" y2="525.60" stroke="#ddd8bc" stroke-width="1.0"/>
<line x1="343.80" y1="588.60" x2="377.00" y2="569.00" stroke="#ddd8bc" stroke-width="1.0"/>
<line x1="389.00" y1="526.50" x2="414.50" y2="511.40" stroke="#ddd8bc" stroke-width="0.8" stroke-dasharray="4.5 3.5"/>
<line x1="442.90" y1="540.80" x2="452.40" y2="535.40" stroke="#ddd8bc" stroke-width="1.0"/>
<line x1="446.00" y1="544.20" x2="458.50" y2="537.00" stroke="#ddd8bc" stroke-width="1.0" stroke-dasharray="3.5 2.5"/>
<line x1="448.50" y1="547.50" x2="463.50" y2="538.80" stroke="#ddd8bc" stroke-width="1.0"/>
<path d="M316.5 566.5 L324 560.5 L352 547 L356 549.5 L330 562.5 L325 567.5 L345 578.5 L372 566 L376 568.5 L347 582.5 L322 571 Z" fill="#585858" opacity="0.9"/>
<path d="M333 566.5 L349 559 L361 565.5 L355 568.5 L349 565.5 L343 568.5 L349 572 L344 574.5 Z" fill="#4f4f4f" opacity="0.9"/>
<path d="M317 563.8 C322 557 336 552 346 546.5" fill="none" stroke="#8d7aa0" stroke-width="0.8"/>
<polygon points="344.40,546.20 360.80,536.20 363.20,537.60 346.80,548.00" fill="#e29aae"/>
<polygon points="371.80,564.80 387.20,554.80 389.80,556.40 374.20,566.80" fill="#e29aae"/>
<polygon points="360.20,495.00 362.70,496.00 362.70,527.00 360.20,526.00" fill="#f3d9d0"/>
<polygon points="360.20,526.00 362.70,527.00 362.70,537.00 360.20,536.00" fill="#b3456f"/>
<polygon points="362.70,496.00 363.50,495.50 363.50,526.50 362.70,527.00" fill="#e9bdb8"/>
<polygon points="362.70,527.00 363.50,526.50 363.50,536.50 362.70,537.00" fill="#8e2f55"/>
<polygon points="386.20,513.00 388.70,514.00 388.70,546.00 386.20,545.00" fill="#f3d9d0"/>
<polygon points="386.20,545.00 388.70,546.00 388.70,556.00 386.20,555.00" fill="#b3456f"/>
<polygon points="388.70,514.00 389.50,513.50 389.50,545.50 388.70,546.00" fill="#e9bdb8"/>
<polygon points="388.70,546.00 389.50,545.50 389.50,555.50 388.70,556.00" fill="#8e2f55"/>
<polygon points="362.00,519.50 387.00,537.00 387.00,540.20 362.00,522.70" fill="#b3456f"/>
<polygon points="354.60,499.60 357.00,498.20 380.50,514.60 378.00,516.20" fill="#b3456f"/>
<polygon points="354.60,499.60 378.00,516.20 378.00,518.20 354.60,501.60" fill="#8e2f55"/>
<line x1="364.40" y1="508.00" x2="364.40" y2="528.50" stroke="#555" stroke-width="0.5"/>
<polygon points="361.20,529.50 365.00,527.40 368.20,529.20 364.40,531.60" fill="#f1f1f1"/>
<polygon points="361.20,529.50 364.40,531.60 364.40,533.80 361.20,531.70" fill="#d8d8d8"/>
<polygon points="364.40,531.60 368.20,529.20 368.20,531.40 364.40,533.80" fill="#e4e4e4"/>
<polygon points="345.40,504.00 347.90,505.00 347.90,527.50 345.40,526.50" fill="#f3d9d0"/>
<polygon points="345.40,526.50 347.90,527.50 347.90,548.50 345.40,547.50" fill="#b3456f"/>
<polygon points="347.90,505.00 348.70,504.50 348.70,527.00 347.90,527.50" fill="#e9bdb8"/>
<polygon points="347.90,527.50 348.70,527.00 348.70,548.00 347.90,548.50" fill="#8e2f55"/>
<polygon points="372.60,522.80 375.10,523.80 375.10,546.00 372.60,545.00" fill="#f3d9d0"/>
<polygon points="372.60,545.00 375.10,546.00 375.10,567.30 372.60,566.30" fill="#b3456f"/>
<polygon points="375.10,523.80 375.90,523.30 375.90,545.50 375.10,546.00" fill="#e9bdb8"/>
<polygon points="375.10,546.00 375.90,545.50 375.90,566.80 375.10,567.30" fill="#8e2f55"/>
<polygon points="347.00,530.00 373.50,546.40 373.50,549.80 347.00,533.40" fill="#b3456f"/>
<polygon points="347.00,529.20 373.50,545.60 373.50,546.40 347.00,530.00" fill="#c9628a"/>
<path fill-rule="evenodd" d="M345.40 503.90 L361.90 494.00 L388.90 512.50 L373.20 522.60 Z M349.60 504.20 L361.90 496.90 L384.60 512.40 L373.20 519.60 Z" fill="#f3d9d0"/>
<polygon points="345.40,503.90 373.20,522.60 373.20,524.20 345.40,505.50" fill="#e9bdb8"/>
<polygon points="373.20,522.60 388.90,512.50 388.90,514.10 373.20,524.20" fill="#e3aea9"/>
<polygon points="407.40,508.40 468.00,472.50 537.50,513.75 477.50,550.20" fill="#444446"/>
<polygon points="407.40,508.40 477.50,550.20 537.50,513.75 537.50,514.60 477.50,551.20 407.40,509.30" fill="#2e2e30"/>
<line x1="421.30" y1="514.40" x2="436.00" y2="505.80" stroke="#dfa04a" stroke-width="1.1"/>
<line x1="441.90" y1="526.90" x2="470.00" y2="510.00" stroke="#e2b13c" stroke-width="1.0"/>
<line x1="447.50" y1="530.00" x2="474.00" y2="514.40" stroke="#e2b13c" stroke-width="1.0"/>
<line x1="470.60" y1="542.00" x2="528.00" y2="508.60" stroke="#e2b13c" stroke-width="1.0"/>
<line x1="548.80" y1="417.00" x2="552.60" y2="414.60" stroke="#ddd8bc" stroke-width="1.0"/>
<line x1="549.60" y1="422.60" x2="558.20" y2="417.20" stroke="#ddd8bc" stroke-width="1.0"/>
<line x1="551.40" y1="427.00" x2="561.40" y2="420.80" stroke="#ddd8bc" stroke-width="1.0"/>
<line x1="601.50" y1="384.20" x2="609.00" y2="379.60" stroke="#ddd8bc" stroke-width="1.0"/>
<line x1="604.40" y1="387.40" x2="612.40" y2="382.40" stroke="#ddd8bc" stroke-width="1.0" stroke-dasharray="2.5 2"/>
<line x1="606.60" y1="390.60" x2="614.50" y2="385.60" stroke="#ddd8bc" stroke-width="1.0"/>
<polygon points="471.70,466.70 539.00,427.50 609.00,471.50 540.60,505.40" fill="#a88b7f"/>
<polygon points="528.70,498.80 540.60,505.40 540.60,514.40 528.70,507.60" fill="#e6c7c6"/>
<polygon points="540.60,505.40 609.00,471.50 609.00,474.50 540.60,514.40" fill="#f3e1e0"/>
<polygon points="528.70,498.60 540.60,505.20 609.00,471.30 609.00,472.30 540.60,506.40 528.70,499.80" fill="#f4e4e3"/>
<polygon points="470.80,438.20 539.60,397.80 539.60,428.50 470.80,468.00" fill="#ead0cf"/>
<polygon points="469.00,437.00 538.00,396.60 540.20,397.90 471.20,438.30" fill="#f3e1e0"/>
<polygon points="538.00,396.80 540.20,398.10 540.20,428.90 538.00,427.60" fill="#f6ebea"/>
<polygon points="538.00,446.00 552.00,441.00 566.00,451.00 556.00,457.00 547.00,455.00" fill="#927569" opacity="0.8"/>
<polygon points="497.00,456.00 520.00,443.00 531.00,450.00 508.00,463.00" fill="#9a7d71" opacity="0.6"/>
<polygon points="507.00,459.30 531.50,444.60 533.90,445.99 509.40,460.69" fill="#e9e3e1"/>
<line x1="510.70" y1="457.40" x2="512.70" y2="458.39" stroke="#b49c92" stroke-width="0.9"/>
<line x1="514.20" y1="455.30" x2="516.20" y2="456.29" stroke="#b49c92" stroke-width="0.9"/>
<line x1="517.70" y1="453.20" x2="519.70" y2="454.19" stroke="#b49c92" stroke-width="0.9"/>
<line x1="521.20" y1="451.10" x2="523.20" y2="452.09" stroke="#b49c92" stroke-width="0.9"/>
<line x1="524.70" y1="449.00" x2="526.70" y2="449.99" stroke="#b49c92" stroke-width="0.9"/>
<line x1="528.20" y1="446.90" x2="530.20" y2="447.89" stroke="#b49c92" stroke-width="0.9"/>
<polygon points="533.50,443.20 543.50,437.20 545.90,438.59 535.90,444.59" fill="#e9e3e1"/>
<line x1="537.03" y1="441.40" x2="539.03" y2="442.39" stroke="#b49c92" stroke-width="0.9"/>
<line x1="540.37" y1="439.40" x2="542.37" y2="440.39" stroke="#b49c92" stroke-width="0.9"/>
<polygon points="546.50,452.60 552.50,449.00 554.90,450.39 548.90,453.99" fill="#e9e3e1"/>
<polyline points="517.6,468.4 524.3,472.4 518.0,476.0" fill="none" stroke="#d9a13d" stroke-width="0.7"/>
<polyline points="533.5,479.0 549.6,487.6 540.0,493.6 531.0,489.0" fill="none" stroke="#d9a13d" stroke-width="0.7"/>
<line x1="555.50" y1="494.40" x2="564.00" y2="489.80" stroke="#d9a13d" stroke-width="0.9"/>
<line x1="557.50" y1="496.20" x2="566.00" y2="491.40" stroke="#d9a13d" stroke-width="0.9"/>
<polygon points="538.90,425.30 540.20,426.05 540.20,405.05 538.90,404.30" fill="#2f86c8"/>
<polygon points="540.20,426.05 541.50,425.30 541.50,404.30 540.20,405.05" fill="#1f6fae"/>
<polygon points="538.90,404.30 540.20,403.55 541.50,404.30 540.20,405.05" fill="#56aee6"/>
<line x1="539.33" y1="425.05" x2="546.00" y2="422.47" stroke="#2f86c8" stroke-width="1.1"/>
<line x1="539.33" y1="411.69" x2="546.00" y2="422.47" stroke="#2f86c8" stroke-width="1.1"/>
<line x1="539.33" y1="411.69" x2="546.00" y2="408.90" stroke="#2f86c8" stroke-width="1.1"/>
<line x1="539.33" y1="424.75" x2="546.00" y2="428.60" stroke="#2f86c8" stroke-width="1.1"/>
<line x1="539.33" y1="415.05" x2="546.00" y2="418.90" stroke="#2f86c8" stroke-width="1.1"/>
<line x1="539.33" y1="405.35" x2="546.00" y2="409.20" stroke="#2f86c8" stroke-width="1.1"/>
<polygon points="545.14,428.90 546.44,429.65 546.44,408.65 545.14,407.90" fill="#2f86c8"/>
<polygon points="546.44,429.65 547.73,428.90 547.73,407.90 546.44,408.65" fill="#1f6fae"/>
<polygon points="545.14,407.90 546.44,407.15 547.73,407.90 546.44,408.65" fill="#56aee6"/>
<polygon points="530.11,430.38 536.26,433.93 536.26,425.53 530.11,421.98" fill="#e0a870" stroke="#b88450" stroke-width="0.25"/>
<polygon points="536.26,433.93 542.67,430.23 542.67,421.83 536.26,425.53" fill="#d2965c" stroke="#b88450" stroke-width="0.25"/>
<polygon points="530.11,421.98 536.52,418.28 542.67,421.83 536.26,425.53" fill="#f1c48e" stroke="#b88450" stroke-width="0.25"/>
<polygon points="523.49,434.20 529.63,437.75 529.63,429.35 523.49,425.80" fill="#e0a870" stroke="#b88450" stroke-width="0.25"/>
<polygon points="529.63,437.75 536.04,434.05 536.04,425.65 529.63,429.35" fill="#d2965c" stroke="#b88450" stroke-width="0.25"/>
<polygon points="523.49,425.80 529.89,422.10 536.04,425.65 529.63,429.35" fill="#f1c48e" stroke="#b88450" stroke-width="0.25"/>
<line x1="530.07" y1="438.60" x2="546.44" y2="429.15" stroke="#c98b5a" stroke-width="0.7"/>
<polygon points="530.11,420.57 536.26,424.12 536.26,415.73 530.11,412.18" fill="#e0a870" stroke="#b88450" stroke-width="0.25"/>
<polygon points="536.26,424.12 542.67,420.43 542.67,412.03 536.26,415.73" fill="#d2965c" stroke="#b88450" stroke-width="0.25"/>
<polygon points="530.11,412.18 536.52,408.48 542.67,412.03 536.26,415.73" fill="#f1c48e" stroke="#b88450" stroke-width="0.25"/>
<polygon points="523.49,424.40 529.63,427.95 529.63,419.55 523.49,416.00" fill="#e0a870" stroke="#b88450" stroke-width="0.25"/>
<polygon points="529.63,427.95 536.04,424.25 536.04,415.85 529.63,419.55" fill="#d2965c" stroke="#b88450" stroke-width="0.25"/>
<polygon points="523.49,416.00 529.89,412.30 536.04,415.85 529.63,419.55" fill="#f1c48e" stroke="#b88450" stroke-width="0.25"/>
<line x1="530.07" y1="428.80" x2="546.44" y2="419.35" stroke="#c98b5a" stroke-width="0.7"/>
<polygon points="521.23,435.50 522.53,436.25 522.53,415.25 521.23,414.50" fill="#2f86c8"/>
<polygon points="522.53,436.25 523.83,435.50 523.83,414.50 522.53,415.25" fill="#1f6fae"/>
<polygon points="521.23,414.50 522.53,413.75 523.83,414.50 522.53,415.25" fill="#56aee6"/>
<line x1="521.67" y1="435.25" x2="528.34" y2="432.67" stroke="#2f86c8" stroke-width="1.1"/>
<line x1="521.67" y1="421.89" x2="528.34" y2="432.67" stroke="#2f86c8" stroke-width="1.1"/>
<line x1="521.67" y1="421.89" x2="528.34" y2="419.10" stroke="#2f86c8" stroke-width="1.1"/>
<line x1="521.67" y1="434.95" x2="528.34" y2="438.80" stroke="#2f86c8" stroke-width="1.1"/>
<line x1="521.67" y1="425.25" x2="528.34" y2="429.10" stroke="#2f86c8" stroke-width="1.1"/>
<line x1="521.67" y1="415.55" x2="528.34" y2="419.40" stroke="#2f86c8" stroke-width="1.1"/>
<polygon points="527.47,439.10 528.77,439.85 528.77,418.85 527.47,418.10" fill="#2f86c8"/>
<polygon points="528.77,439.85 530.07,439.10 530.07,418.10 528.77,418.85" fill="#1f6fae"/>
<polygon points="527.47,418.10 528.77,417.35 530.07,418.10 528.77,418.85" fill="#56aee6"/>
<polygon points="512.00,440.83 518.15,444.38 518.15,436.18 512.00,432.63" fill="#e0a870" stroke="#b88450" stroke-width="0.25"/>
<polygon points="518.15,444.38 525.00,440.43 525.00,432.23 518.15,436.18" fill="#d2965c" stroke="#b88450" stroke-width="0.25"/>
<polygon points="512.00,432.63 518.85,428.68 525.00,432.23 518.15,436.18" fill="#f1c48e" stroke="#b88450" stroke-width="0.25"/>
<polygon points="504.92,444.92 511.07,448.47 511.07,440.27 504.92,436.72" fill="#e0a870" stroke="#b88450" stroke-width="0.25"/>
<polygon points="511.07,448.47 517.93,444.51 517.93,436.31 511.07,440.27" fill="#d2965c" stroke="#b88450" stroke-width="0.25"/>
<polygon points="504.92,436.72 511.78,432.76 517.93,436.31 511.07,440.27" fill="#f1c48e" stroke="#b88450" stroke-width="0.25"/>
<polygon points="497.85,449.00 504.00,452.55 504.00,444.35 497.85,440.80" fill="#e0a870" stroke="#b88450" stroke-width="0.25"/>
<polygon points="504.00,452.55 510.86,448.59 510.86,440.39 504.00,444.35" fill="#d2965c" stroke="#b88450" stroke-width="0.25"/>
<polygon points="497.85,440.80 504.71,436.84 510.86,440.39 504.00,444.35" fill="#f1c48e" stroke="#b88450" stroke-width="0.25"/>
<line x1="504.43" y1="453.40" x2="528.77" y2="439.35" stroke="#c98b5a" stroke-width="0.7"/>
<polygon points="508.46,433.07 514.61,436.62 514.61,428.03 508.46,424.48" fill="#e0a870" stroke="#b88450" stroke-width="0.25"/>
<polygon points="514.61,436.62 525.00,430.62 525.00,422.03 514.61,428.03" fill="#d2965c" stroke="#b88450" stroke-width="0.25"/>
<polygon points="508.46,424.48 518.85,418.48 525.00,422.03 514.61,428.03" fill="#f1c48e" stroke="#b88450" stroke-width="0.25"/>
<polygon points="497.85,439.20 504.00,442.75 504.00,434.15 497.85,430.60" fill="#e0a870" stroke="#b88450" stroke-width="0.25"/>
<polygon points="504.00,442.75 514.39,436.75 514.39,428.15 504.00,434.15" fill="#d2965c" stroke="#b88450" stroke-width="0.25"/>
<polygon points="497.85,430.60 508.24,424.60 514.39,428.15 504.00,434.15" fill="#f1c48e" stroke="#b88450" stroke-width="0.25"/>
<line x1="504.43" y1="443.60" x2="528.77" y2="429.55" stroke="#c98b5a" stroke-width="0.7"/>
<polygon points="495.60,450.30 496.90,451.05 496.90,430.05 495.60,429.30" fill="#2f86c8"/>
<polygon points="496.90,451.05 498.20,450.30 498.20,429.30 496.90,430.05" fill="#1f6fae"/>
<polygon points="495.60,429.30 496.90,428.55 498.20,429.30 496.90,430.05" fill="#56aee6"/>
<line x1="496.03" y1="450.05" x2="502.70" y2="447.47" stroke="#2f86c8" stroke-width="1.1"/>
<line x1="496.03" y1="436.69" x2="502.70" y2="447.47" stroke="#2f86c8" stroke-width="1.1"/>
<line x1="496.03" y1="436.69" x2="502.70" y2="433.90" stroke="#2f86c8" stroke-width="1.1"/>
<line x1="496.03" y1="449.75" x2="502.70" y2="453.60" stroke="#2f86c8" stroke-width="1.1"/>
<line x1="496.03" y1="440.05" x2="502.70" y2="443.90" stroke="#2f86c8" stroke-width="1.1"/>
<line x1="496.03" y1="430.35" x2="502.70" y2="434.20" stroke="#2f86c8" stroke-width="1.1"/>
<polygon points="501.84,453.90 503.13,454.65 503.13,433.65 501.84,432.90" fill="#2f86c8"/>
<polygon points="503.13,454.65 504.43,453.90 504.43,432.90 503.13,433.65" fill="#1f6fae"/>
<polygon points="501.84,432.90 503.13,432.15 504.43,432.90 503.13,433.65" fill="#56aee6"/>
<polygon points="528.08,413.35 533.71,416.60 533.71,410.40 528.08,407.15" fill="#e0a870" stroke="#b88450" stroke-width="0.25"/>
<polygon points="533.71,416.60 540.20,412.85 540.20,406.65 533.71,410.40" fill="#d2965c" stroke="#b88450" stroke-width="0.25"/>
<polygon points="528.08,407.15 534.57,403.40 540.20,406.65 533.71,410.40" fill="#f1c48e" stroke="#b88450" stroke-width="0.25"/>
<polygon points="541.00,446.07 548.52,450.41 548.52,445.45 541.00,441.11" fill="#c98631"/>
<polygon points="548.52,450.41 553.89,447.31 553.89,442.35 548.52,445.45" fill="#b06f25"/>
<polygon points="541.00,441.11 546.37,438.01 553.89,442.35 548.52,445.45" fill="#e0a045"/>
<polygon points="543.68,441.42 547.44,443.59 547.44,440.49 543.68,438.32" fill="#4f4140"/>
<polygon points="547.44,443.59 550.66,441.73 550.66,438.63 547.44,440.49" fill="#5a4a49"/>
<polygon points="543.68,438.32 546.91,436.46 550.66,438.63 547.44,440.49" fill="#6b5a58"/>
<polygon points="547.71,443.75 548.57,444.24 548.57,425.64 547.71,425.14" fill="#6a5855"/>
<polygon points="548.57,444.24 549.43,443.75 549.43,425.14 548.57,425.64" fill="#5c4c4a"/>
<polygon points="547.71,425.14 548.57,424.65 549.43,425.14 548.57,425.64" fill="#8a7672"/>
<polygon points="552.54,446.54 553.40,447.03 553.40,428.43 552.54,427.94" fill="#6a5855"/>
<polygon points="553.40,447.03 554.26,446.54 554.26,427.94 553.40,428.43" fill="#5c4c4a"/>
<polygon points="552.54,427.94 553.40,427.44 554.26,427.94 553.40,428.43" fill="#8a7672"/>
<polygon points="547.71,426.07 553.40,429.36 553.40,428.37 547.71,425.08" fill="#6a5855"/>
<polygon points="553.40,429.36 554.26,428.87 554.26,427.87 553.40,428.37" fill="#5c4c4a"/>
<polygon points="547.71,425.08 548.57,424.59 554.26,427.87 553.40,428.37" fill="#8a7672"/>
<polygon points="542.07,433.98 548.52,437.70 548.52,436.96 542.07,433.24" fill="#4f4140"/>
<polygon points="548.52,437.70 553.35,434.91 553.35,434.17 548.52,436.96" fill="#5a4a49"/>
<polygon points="542.07,433.24 546.91,430.45 553.35,434.17 548.52,436.96" fill="#6b5a58"/>
<polygon points="542.07,441.11 542.45,441.33 542.45,434.20 542.07,433.98" fill="#3f3332"/>
<polygon points="542.45,441.33 542.83,441.11 542.83,433.98 542.45,434.20" fill="#4a3d3c"/>
<polygon points="542.07,433.98 542.45,433.76 542.83,433.98 542.45,434.20" fill="#5a4a49"/>
<polygon points="548.19,444.64 548.57,444.86 548.57,437.73 548.19,437.51" fill="#3f3332"/>
<polygon points="548.57,444.86 548.95,444.64 548.95,437.51 548.57,437.73" fill="#4a3d3c"/>
<polygon points="548.19,437.51 548.57,437.30 548.95,437.51 548.57,437.73" fill="#5a4a49"/>
<polygon points="552.71,442.04 553.08,442.26 553.08,435.13 552.71,434.91" fill="#3f3332"/>
<polygon points="553.08,442.26 553.46,442.04 553.46,434.91 553.08,435.13" fill="#4a3d3c"/>
<polygon points="552.71,434.91 553.08,434.69 553.46,434.91 553.08,435.13" fill="#5a4a49"/>
<ellipse cx="549.70" cy="449.42" rx="1.50" ry="1.70" fill="#2a2225"/>
<ellipse cx="553.24" cy="447.37" rx="1.40" ry="1.60" fill="#2a2225"/>
<polygon points="525.20,444.60 531.80,440.80 532.60,441.40 526.00,445.20" fill="#e8b63a"/>
<polygon points="527.20,445.80 533.80,442.00 534.60,442.60 528.00,446.40" fill="#e8b63a"/>
<polygon points="570.63,447.40 571.93,448.15 571.93,425.65 570.63,424.90" fill="#2f86c8"/>
<polygon points="571.93,448.15 573.23,447.40 573.23,424.90 571.93,425.65" fill="#1f6fae"/>
<polygon points="570.63,424.90 571.93,424.15 573.23,424.90 571.93,425.65" fill="#56aee6"/>
<line x1="571.07" y1="447.15" x2="578.69" y2="444.62" stroke="#2f86c8" stroke-width="1.1"/>
<line x1="571.07" y1="432.80" x2="578.69" y2="444.62" stroke="#2f86c8" stroke-width="1.1"/>
<line x1="571.07" y1="432.80" x2="578.69" y2="430.05" stroke="#2f86c8" stroke-width="1.1"/>
<line x1="571.07" y1="446.85" x2="578.69" y2="451.25" stroke="#2f86c8" stroke-width="1.1"/>
<line x1="571.07" y1="436.40" x2="578.69" y2="440.80" stroke="#2f86c8" stroke-width="1.1"/>
<line x1="571.07" y1="425.95" x2="578.69" y2="430.35" stroke="#2f86c8" stroke-width="1.1"/>
<polygon points="577.82,451.55 579.12,452.30 579.12,429.80 577.82,429.05" fill="#2f86c8"/>
<polygon points="579.12,452.30 580.42,451.55 580.42,429.05 579.12,429.80" fill="#1f6fae"/>
<polygon points="577.82,429.05 579.12,428.30 580.42,429.05 579.12,429.80" fill="#56aee6"/>
<polygon points="561.41,452.73 568.51,456.82 568.51,447.23 561.41,443.13" fill="#e0a870" stroke="#b88450" stroke-width="0.25"/>
<polygon points="568.51,456.82 575.35,452.88 575.35,443.28 568.51,447.23" fill="#d2965c" stroke="#b88450" stroke-width="0.25"/>
<polygon points="561.41,443.13 568.25,439.18 575.35,443.28 568.51,447.23" fill="#f1c48e" stroke="#b88450" stroke-width="0.25"/>
<polygon points="554.35,456.80 561.45,460.90 561.45,451.30 554.35,447.20" fill="#e0a870" stroke="#b88450" stroke-width="0.25"/>
<polygon points="561.45,460.90 568.29,456.95 568.29,447.35 561.45,451.30" fill="#d2965c" stroke="#b88450" stroke-width="0.25"/>
<polygon points="554.35,447.20 561.19,443.25 568.29,447.35 561.45,451.30" fill="#f1c48e" stroke="#b88450" stroke-width="0.25"/>
<line x1="561.89" y1="461.75" x2="579.12" y2="451.80" stroke="#c98b5a" stroke-width="0.7"/>
<polygon points="561.41,442.13 568.51,446.23 568.51,436.43 561.41,432.33" fill="#e0a870" stroke="#b88450" stroke-width="0.25"/>
<polygon points="568.51,446.23 575.35,442.28 575.35,432.48 568.51,436.43" fill="#d2965c" stroke="#b88450" stroke-width="0.25"/>
<polygon points="561.41,432.33 568.25,428.38 575.35,432.48 568.51,436.43" fill="#f1c48e" stroke="#b88450" stroke-width="0.25"/>
<polygon points="554.35,446.20 561.45,450.30 561.45,440.50 554.35,436.40" fill="#e0a870" stroke="#b88450" stroke-width="0.25"/>
<polygon points="561.45,450.30 568.29,446.35 568.29,436.55 561.45,440.50" fill="#d2965c" stroke="#b88450" stroke-width="0.25"/>
<polygon points="554.35,436.40 561.19,432.45 568.29,436.55 561.45,440.50" fill="#f1c48e" stroke="#b88450" stroke-width="0.25"/>
<line x1="561.89" y1="451.15" x2="579.12" y2="441.20" stroke="#c98b5a" stroke-width="0.7"/>
<polygon points="552.10,458.10 553.40,458.85 553.40,436.35 552.10,435.60" fill="#2f86c8"/>
<polygon points="553.40,458.85 554.70,458.10 554.70,435.60 553.40,436.35" fill="#1f6fae"/>
<polygon points="552.10,435.60 553.40,434.85 554.70,435.60 553.40,436.35" fill="#56aee6"/>
<line x1="552.53" y1="457.85" x2="560.15" y2="455.32" stroke="#2f86c8" stroke-width="1.1"/>
<line x1="552.53" y1="443.50" x2="560.15" y2="455.32" stroke="#2f86c8" stroke-width="1.1"/>
<line x1="552.53" y1="443.50" x2="560.15" y2="440.75" stroke="#2f86c8" stroke-width="1.1"/>
<line x1="552.53" y1="457.55" x2="560.15" y2="461.95" stroke="#2f86c8" stroke-width="1.1"/>
<line x1="552.53" y1="447.10" x2="560.15" y2="451.50" stroke="#2f86c8" stroke-width="1.1"/>
<line x1="552.53" y1="436.65" x2="560.15" y2="441.05" stroke="#2f86c8" stroke-width="1.1"/>
<polygon points="559.29,462.25 560.59,463.00 560.59,440.50 559.29,439.75" fill="#2f86c8"/>
<polygon points="560.59,463.00 561.89,462.25 561.89,439.75 560.59,440.50" fill="#1f6fae"/>
<polygon points="559.29,439.75 560.59,439.00 561.89,439.75 560.59,440.50" fill="#56aee6"/>
<polygon points="559.00,470.40 565.06,473.90 565.06,462.90 559.00,459.40" fill="#e0a870" stroke="#b88450" stroke-width="0.25"/>
<polygon points="565.06,473.90 572.42,469.65 572.42,458.65 565.06,462.90" fill="#d2965c" stroke="#b88450" stroke-width="0.25"/>
<polygon points="559.00,459.40 566.36,455.15 572.42,458.65 565.06,462.90" fill="#f1c48e" stroke="#b88450" stroke-width="0.25"/>
<polygon points="570.50,462.20 577.00,465.95 577.00,456.45 570.50,452.70" fill="#e0a870" stroke="#b88450" stroke-width="0.25"/>
<polygon points="577.00,465.95 585.22,461.20 585.22,451.70 577.00,456.45" fill="#d2965c" stroke="#b88450" stroke-width="0.25"/>
<polygon points="570.50,452.70 578.73,447.95 585.22,451.70 577.00,456.45" fill="#f1c48e" stroke="#b88450" stroke-width="0.25"/>
<polygon points="567.60,475.20 572.10,477.80 572.10,472.20 567.60,469.60" fill="#e0a870" stroke="#b88450" stroke-width="0.25"/>
<polygon points="572.10,477.80 577.47,474.70 577.47,469.10 572.10,472.20" fill="#d2965c" stroke="#b88450" stroke-width="0.25"/>
<polygon points="567.60,469.60 572.97,466.50 577.47,469.10 572.10,472.20" fill="#f1c48e" stroke="#b88450" stroke-width="0.25"/>
<polygon points="581.00,468.60 587.50,472.35 587.50,464.35 581.00,460.60" fill="#e0a870" stroke="#b88450" stroke-width="0.25"/>
<polygon points="587.50,472.35 595.29,467.85 595.29,459.85 587.50,464.35" fill="#d2965c" stroke="#b88450" stroke-width="0.25"/>
<polygon points="581.00,460.60 588.79,456.10 595.29,459.85 587.50,464.35" fill="#f1c48e" stroke="#b88450" stroke-width="0.25"/>
<polygon points="584.60,474.00 590.14,477.20 590.14,469.70 584.60,466.50" fill="#e0a870" stroke="#b88450" stroke-width="0.25"/>
<polygon points="590.14,477.20 597.07,473.20 597.07,465.70 590.14,469.70" fill="#d2965c" stroke="#b88450" stroke-width="0.25"/>
<polygon points="584.60,466.50 591.53,462.50 597.07,465.70 590.14,469.70" fill="#f1c48e" stroke="#b88450" stroke-width="0.25"/>
<polygon points="573.20,466.50 576.84,468.60 576.84,464.10 573.20,462.00" fill="#e0a870" stroke="#b88450" stroke-width="0.25"/>
<polygon points="576.84,468.60 580.82,466.30 580.82,461.80 576.84,464.10" fill="#d2965c" stroke="#b88450" stroke-width="0.25"/>
<polygon points="573.20,462.00 577.18,459.70 580.82,461.80 576.84,464.10" fill="#f1c48e" stroke="#b88450" stroke-width="0.25"/>
<polygon points="561.60,483.00 565.93,485.50 565.93,480.50 561.60,478.00" fill="#e0a870" stroke="#b88450" stroke-width="0.25"/>
<polygon points="565.93,485.50 570.43,482.90 570.43,477.90 565.93,480.50" fill="#d2965c" stroke="#b88450" stroke-width="0.25"/>
<polygon points="561.60,478.00 566.10,475.40 570.43,477.90 565.93,480.50" fill="#f1c48e" stroke="#b88450" stroke-width="0.25"/>
<polygon points="575.00,479.00 581.50,482.75 581.50,481.55 575.00,477.80" fill="#e0a870" stroke="#b88450" stroke-width="0.25"/>
<polygon points="581.50,482.75 587.99,479.00 587.99,477.80 581.50,481.55" fill="#d2965c" stroke="#b88450" stroke-width="0.25"/>
<polygon points="575.00,477.80 581.50,474.05 587.99,477.80 581.50,481.55" fill="#f1c48e" stroke="#b88450" stroke-width="0.25"/>
<ellipse cx="556.00" cy="473.20" rx="0.90" ry="0.80" fill="#e89b93"/>
<ellipse cx="554.60" cy="482.00" rx="0.90" ry="0.80" fill="#e89b93"/>
<ellipse cx="556.20" cy="480.40" rx="0.90" ry="0.80" fill="#e89b93"/>
<path d="M593.40 455.80 L593.40 463.60 A2.90 1.59 0 0 0 599.20 463.60 L599.20 455.80 Z" fill="#2e8fd0"/>
<path d="M596.30 455.80 L596.30 465.20 A2.90 1.59 0 0 0 599.20 463.60 L599.20 455.80 Z" fill="#1f75b3"/>
<ellipse cx="596.30" cy="455.80" rx="2.90" ry="1.59" fill="#5bb5ea"/>
<path d="M599.00 461.80 L599.00 468.40 A2.60 1.43 0 0 0 604.20 468.40 L604.20 461.80 Z" fill="#2e8fd0"/>
<path d="M601.60 461.80 L601.60 469.83 A2.60 1.43 0 0 0 604.20 468.40 L604.20 461.80 Z" fill="#1f75b3"/>
<ellipse cx="601.60" cy="461.80" rx="2.60" ry="1.43" fill="#5bb5ea"/>
<path d="M591.50 453.00 L591.50 459.00 A2.70 1.49 0 0 0 596.90 459.00 L596.90 453.00 Z" fill="#2e8fd0"/>
<path d="M594.20 453.00 L594.20 460.49 A2.70 1.49 0 0 0 596.90 459.00 L596.90 453.00 Z" fill="#1f75b3"/>
<ellipse cx="594.20" cy="453.00" rx="2.70" ry="1.49" fill="#5bb5ea"/>
<line x1="553.60" y1="487.00" x2="553.60" y2="494.60" stroke="#4a60a8" stroke-width="1.0"/>
<line x1="552.00" y1="487.00" x2="555.20" y2="487.00" stroke="#4a60a8" stroke-width="0.9"/>
<polygon points="538.52,500.40 538.52,497.04 540.28,497.04 540.28,500.40" fill="#3a3a44"/>
<polygon points="538.28,497.20 538.28,494.32 540.52,494.32 540.52,497.20" fill="#2f9a94"/>
<ellipse cx="539.40" cy="493.60" rx="0.84" ry="0.92" fill="#e9b48e"/>
<polygon points="547.67,497.00 547.67,493.43 549.53,493.43 549.53,497.00" fill="#3a3a44"/>
<polygon points="547.41,493.60 547.41,490.54 549.79,490.54 549.79,493.60" fill="#d8232f"/>
<ellipse cx="548.60" cy="489.77" rx="0.89" ry="0.98" fill="#e9b48e"/>
<polygon points="538.00,494.40 543.00,491.80 547.00,494.00 542.00,496.80" fill="#dfe9ee"/>
<polygon points="538.00,494.40 542.00,496.80 542.00,500.80 538.00,498.40" fill="#c3d2da"/>
<polygon points="542.00,496.80 547.00,494.00 547.00,498.00 542.00,500.80" fill="#d0dde4"/>
<ellipse cx="540.00" cy="494.00" rx="1.30" ry="1.00" fill="#e8b06a"/>
<polygon points="520.60,492.30 528.39,496.80 528.39,492.00 520.60,487.50" fill="#cf8f2d"/>
<polygon points="528.39,496.80 533.59,493.80 533.59,489.00 528.39,492.00" fill="#b87a22"/>
<polygon points="520.60,487.50 525.80,484.50 533.59,489.00 528.39,492.00" fill="#e7aa3c"/>
<polygon points="520.08,492.30 521.02,492.84 521.02,474.84 520.08,474.30" fill="#6d6275"/>
<polygon points="521.02,492.84 521.95,492.30 521.95,474.30 521.02,474.84" fill="#5d5365"/>
<polygon points="520.08,474.30 521.02,473.76 521.95,474.30 521.02,474.84" fill="#8f8396"/>
<polygon points="523.72,490.20 524.65,490.74 524.65,472.74 523.72,472.20" fill="#6d6275"/>
<polygon points="524.65,490.74 525.59,490.20 525.59,472.20 524.65,472.74" fill="#5d5365"/>
<polygon points="523.72,472.20 524.65,471.66 525.59,472.20 524.65,472.74" fill="#8f8396"/>
<polygon points="520.08,475.20 521.02,475.74 521.02,474.66 520.08,474.12" fill="#6d6275"/>
<polygon points="521.02,475.74 525.59,473.10 525.59,472.02 521.02,474.66" fill="#5d5365"/>
<polygon points="520.08,474.12 524.65,471.48 525.59,472.02 521.02,474.66" fill="#8f8396"/>
<polygon points="521.90,481.05 528.13,484.65 528.13,483.93 521.90,480.33" fill="#5a5164"/>
<polygon points="528.13,484.65 532.81,481.95 532.81,481.23 528.13,483.93" fill="#675d71"/>
<polygon points="521.90,480.33 526.58,477.63 532.81,481.23 528.13,483.93" fill="#7c7286"/>
<polygon points="522.05,487.98 522.42,488.19 522.42,481.29 522.05,481.08" fill="#403848"/>
<polygon points="522.42,488.19 522.78,487.98 522.78,481.08 522.42,481.29" fill="#4c4356"/>
<polygon points="522.05,481.08 522.42,480.87 522.78,481.08 522.42,481.29" fill="#5d5365"/>
<polygon points="527.87,491.34 528.24,491.55 528.24,484.65 527.87,484.44" fill="#403848"/>
<polygon points="528.24,491.55 528.60,491.34 528.60,484.44 528.24,484.65" fill="#4c4356"/>
<polygon points="527.87,484.44 528.24,484.23 528.60,484.44 528.24,484.65" fill="#5d5365"/>
<polygon points="532.24,488.82 532.60,489.03 532.60,482.13 532.24,481.92" fill="#403848"/>
<polygon points="532.60,489.03 532.97,488.82 532.97,481.92 532.60,482.13" fill="#4c4356"/>
<polygon points="532.24,481.92 532.60,481.71 532.97,481.92 532.60,482.13" fill="#5d5365"/>
<polygon points="523.98,487.95 527.10,489.75 527.10,486.75 523.98,484.95" fill="#352e3d"/>
<polygon points="527.10,489.75 529.69,488.25 529.69,485.25 527.10,486.75" fill="#403848"/>
<polygon points="523.98,484.95 526.58,483.45 529.69,485.25 527.10,486.75" fill="#4c4356"/>
<ellipse cx="522.05" cy="492.72" rx="1.50" ry="1.70" fill="#2a2225"/>
<ellipse cx="526.99" cy="495.57" rx="1.50" ry="1.70" fill="#2a2225"/>
<ellipse cx="522.94" cy="479.97" rx="0.70" ry="0.50" fill="#f08a24"/>
<polygon points="533.03,497.40 533.03,494.46 534.57,494.46 534.57,497.40" fill="#4a4048"/>
<polygon points="532.82,494.60 532.82,492.08 534.78,492.08 534.78,494.60" fill="#f0b62c"/>
<ellipse cx="533.80" cy="491.45" rx="0.73" ry="0.80" fill="#e9b48e"/>
<polygon points="592.40,388.25 602.70,394.20 602.70,384.00 592.40,378.05" fill="#d31f2b"/>
<polygon points="602.70,394.20 608.76,390.70 608.76,380.50 602.70,384.00" fill="#c21923"/>
<polygon points="592.40,378.05 598.46,374.55 608.76,380.50 602.70,384.00" fill="#e5323b"/>
<polygon points="604.89,387.76 607.66,386.16 607.66,382.36 604.89,383.96" fill="#cfe9f5"/>
<polygon points="553.60,411.75 562.69,417.00 562.69,415.00 553.60,409.75" fill="#26262a"/>
<polygon points="562.69,417.00 605.56,392.25 605.56,390.25 562.69,415.00" fill="#2d2d31"/>
<polygon points="553.60,409.75 596.47,385.00 605.56,390.25 562.69,415.00" fill="#3a3a3e"/>
<polygon points="552.30,409.70 563.13,415.95 563.13,402.75 552.30,396.50" fill="#e2e2e2"/>
<polygon points="563.13,415.95 602.53,393.20 602.53,380.00 563.13,402.75" fill="#eeeeee"/>
<polygon points="552.30,396.50 591.70,373.75 602.53,380.00 563.13,402.75" fill="#fbfbfb"/>
<ellipse cx="566.33" cy="414.87" rx="1.61" ry="1.78" fill="#1c1c20"/>
<ellipse cx="566.43" cy="414.87" rx="0.68" ry="0.82" fill="#bdbdbd"/>
<ellipse cx="569.79" cy="412.87" rx="1.61" ry="1.78" fill="#1c1c20"/>
<ellipse cx="569.89" cy="412.87" rx="0.68" ry="0.82" fill="#bdbdbd"/>
<ellipse cx="573.26" cy="410.87" rx="1.61" ry="1.78" fill="#1c1c20"/>
<ellipse cx="573.36" cy="410.87" rx="0.68" ry="0.82" fill="#bdbdbd"/>
<ellipse cx="595.34" cy="398.12" rx="1.61" ry="1.78" fill="#1c1c20"/>
<ellipse cx="595.44" cy="398.12" rx="0.68" ry="0.82" fill="#bdbdbd"/>
<ellipse cx="598.81" cy="396.12" rx="1.61" ry="1.78" fill="#1c1c20"/>
<ellipse cx="598.91" cy="396.12" rx="0.68" ry="0.82" fill="#bdbdbd"/>
<ellipse cx="606.17" cy="391.87" rx="1.61" ry="1.78" fill="#1c1c20"/>
<ellipse cx="606.27" cy="391.87" rx="0.68" ry="0.82" fill="#bdbdbd"/>
<g transform="translate(583.63 396.74) matrix(0.736 -0.425 0 0.850 0 0)">
<path d="M-6 -1 C-3 -5 3 -6 6 -4 C7 -2.6 5.5 -1.6 3.6 -1.4 C3.2 -2.8 0 -3.2 -3 -2 Z" fill="#cf0a2c"/>
<path d="M7.5 -3.6 L3.8 -2.6 C3 -0.6 -0.5 -0.6 -1.2 -2.2 C-3.4 -1.4 -2.6 1 1 1 C4 1 6.4 -1.4 7.5 -3.6 Z" fill="#444"/>
<text x="-6.3" y="5.2" font-size="4.3" font-weight="700" fill="#cf0a2c" textLength="13" lengthAdjust="spacingAndGlyphs">loginter</text>
</g>
<polygon points="469.00,437.20 516.40,464.50 516.40,497.50 469.00,470.50" fill="#e6c7c6"/>
<polygon points="469.00,437.00 471.20,435.70 518.60,463.00 516.40,464.30" fill="#f3e1e0"/>
<polygon points="516.40,464.30 518.60,463.00 518.60,492.00 516.40,493.50" fill="#f6ebea"/>
<polygon points="485.40,457.00 502.00,466.60 502.00,487.10 485.40,477.50" fill="#2f86c8"/>
<polygon points="485.40,457.00 502.00,466.60 502.70,466.20 486.10,456.60" fill="#56aee6"/>
<polygon points="486.87,459.55 500.53,467.45 500.53,486.25 486.87,478.35" fill="#9b8176"/>
<polygon points="486.87,459.55 500.53,467.45 500.53,474.45 486.87,466.55" fill="#8a6f63"/>
<polyline points="488.37,477.35 488.37,468.55 499.53,475.45" fill="none" stroke="#d9a13d" stroke-width="0.6"/>
<polygon points="510.30,470.00 515.80,473.20 515.80,494.60 510.30,491.40" fill="#2f86c8"/>
<polygon points="515.80,473.20 517.60,472.20 517.60,493.60 515.80,494.60" fill="#1f6fae"/>
<polygon points="510.30,470.00 512.00,469.00 517.60,472.20 515.80,473.20" fill="#56aee6"/>
<polygon points="515.80,473.20 519.00,471.30 519.00,474.40 515.80,476.30" fill="#56aee6"/>
<polygon points="442.73,507.75 452.25,513.25 452.25,510.65 442.73,505.15" fill="#26262a"/>
<polygon points="452.25,513.25 493.82,489.25 493.82,486.65 452.25,510.65" fill="#2d2d31"/>
<polygon points="442.73,505.15 484.29,481.15 493.82,486.65 452.25,510.65" fill="#3a3a3e"/>
<polygon points="442.73,504.15 453.98,510.65 453.98,492.15 442.73,485.65" fill="#e6dede"/>
<polygon points="453.98,510.65 494.69,487.15 494.69,468.65 453.98,492.15" fill="#efe9e9"/>
<polygon points="442.73,485.65 483.43,462.15 494.69,468.65 453.98,492.15" fill="#f7f3f3"/>
<polygon points="431.90,513.00 443.16,519.50 443.16,502.00 431.90,495.50" fill="#d31f2b"/>
<polygon points="443.16,519.50 451.82,514.50 451.82,497.00 443.16,502.00" fill="#c21923"/>
<polygon points="431.90,495.50 440.56,490.50 451.82,497.00 443.16,502.00" fill="#e5323b"/>
<polygon points="432.92,504.61 442.10,509.91 442.10,503.31 432.92,498.01" fill="#8e2630"/>
<polygon points="433.18,511.76 441.84,516.76 441.84,512.76 433.18,507.76" fill="#b21822"/>
<polygon points="432.58,513.11 434.31,514.11 434.31,512.61 432.58,511.61" fill="#f4e9c8"/>
<polygon points="440.72,517.81 442.45,518.81 442.45,517.31 440.72,516.31" fill="#f4e9c8"/>
<polygon points="444.04,509.51 447.51,507.51 447.51,501.71 444.04,503.71" fill="#8e2630"/>
<polygon points="442.73,512.35 443.94,512.15 443.94,507.65 442.73,507.85" fill="#f1eaea"/>
<ellipse cx="446.80" cy="516.03" rx="2.18" ry="2.42" fill="#1c1c20"/>
<ellipse cx="446.90" cy="516.03" rx="0.97" ry="1.15" fill="#cfcfcf"/>
<ellipse cx="489.23" cy="491.80" rx="1.90" ry="2.10" fill="#1c1c20"/>
<ellipse cx="489.33" cy="491.80" rx="0.84" ry="1.00" fill="#cfcfcf"/>
<ellipse cx="484.90" cy="494.30" rx="1.90" ry="2.10" fill="#1c1c20"/>
<ellipse cx="485.00" cy="494.30" rx="0.84" ry="1.00" fill="#cfcfcf"/>
<ellipse cx="480.57" cy="496.80" rx="1.90" ry="2.10" fill="#1c1c20"/>
<ellipse cx="480.67" cy="496.80" rx="0.84" ry="1.00" fill="#cfcfcf"/>
<ellipse cx="458.05" cy="509.80" rx="1.90" ry="2.10" fill="#1c1c20"/>
<ellipse cx="458.15" cy="509.80" rx="0.84" ry="1.00" fill="#cfcfcf"/>
<ellipse cx="456.60" cy="508.66" rx="0.45" ry="0.45" fill="#d9b98a"/>
<ellipse cx="461.10" cy="506.06" rx="0.45" ry="0.45" fill="#d9b98a"/>
<ellipse cx="465.61" cy="503.46" rx="0.45" ry="0.45" fill="#d9b98a"/>
<ellipse cx="470.11" cy="500.86" rx="0.45" ry="0.45" fill="#d9b98a"/>
<ellipse cx="474.61" cy="498.26" rx="0.45" ry="0.45" fill="#d9b98a"/>
<ellipse cx="479.12" cy="495.66" rx="0.45" ry="0.45" fill="#d9b98a"/>
<ellipse cx="483.62" cy="493.06" rx="0.45" ry="0.45" fill="#d9b98a"/>
<ellipse cx="488.12" cy="490.46" rx="0.45" ry="0.45" fill="#d9b98a"/>
<ellipse cx="492.63" cy="487.86" rx="0.45" ry="0.45" fill="#d9b98a"/>
<g transform="translate(475.17 488.27) matrix(0.866 -0.500 0 1.000 0 0)">
<path d="M-6 -1 C-3 -5 3 -6 6 -4 C7 -2.6 5.5 -1.6 3.6 -1.4 C3.2 -2.8 0 -3.2 -3 -2 Z" fill="#cf0a2c"/>
<path d="M7.5 -3.6 L3.8 -2.6 C3 -0.6 -0.5 -0.6 -1.2 -2.2 C-3.4 -1.4 -2.6 1 1 1 C4 1 6.4 -1.4 7.5 -3.6 Z" fill="#444"/>
<text x="-6.3" y="5.2" font-size="4.3" font-weight="700" fill="#cf0a2c" textLength="13" lengthAdjust="spacingAndGlyphs">loginter</text>
</g>
<polygon points="469.63,524.75 479.15,530.25 479.15,527.65 469.63,522.15" fill="#26262a"/>
<polygon points="479.15,530.25 520.72,506.25 520.72,503.65 479.15,527.65" fill="#2d2d31"/>
<polygon points="469.63,522.15 511.19,498.15 520.72,503.65 479.15,527.65" fill="#3a3a3e"/>
<polygon points="498.20,504.65 509.46,511.15 509.46,510.15 498.20,503.65" fill="#4a4a4e"/>
<polygon points="509.46,511.15 521.59,504.15 521.59,503.15 509.46,510.15" fill="#5a5a5e"/>
<polygon points="498.20,503.65 510.33,496.65 521.59,503.15 509.46,510.15" fill="#8a7a72"/>
<polygon points="469.63,521.15 480.88,527.65 480.88,509.15 469.63,502.65" fill="#e6dede"/>
<polygon points="480.88,527.65 509.46,511.15 509.46,492.65 480.88,509.15" fill="#efe9e9"/>
<polygon points="469.63,502.65 498.20,486.15 509.46,492.65 480.88,509.15" fill="#f7f3f3"/>
<polygon points="458.80,530.00 470.06,536.50 470.06,519.00 458.80,512.50" fill="#d31f2b"/>
<polygon points="470.06,536.50 478.72,531.50 478.72,514.00 470.06,519.00" fill="#c21923"/>
<polygon points="458.80,512.50 467.46,507.50 478.72,514.00 470.06,519.00" fill="#e5323b"/>
<polygon points="459.82,521.61 469.00,526.91 469.00,520.31 459.82,515.01" fill="#8e2630"/>
<polygon points="460.08,528.76 468.74,533.76 468.74,529.76 460.08,524.76" fill="#b21822"/>
<polygon points="459.48,530.11 461.21,531.11 461.21,529.61 459.48,528.61" fill="#f4e9c8"/>
<polygon points="467.62,534.81 469.35,535.81 469.35,534.31 467.62,533.31" fill="#f4e9c8"/>
<polygon points="470.94,526.51 474.41,524.51 474.41,518.71 470.94,520.71" fill="#8e2630"/>
<polygon points="469.63,529.35 470.84,529.15 470.84,524.65 469.63,524.85" fill="#f1eaea"/>
<ellipse cx="473.70" cy="533.03" rx="2.18" ry="2.42" fill="#1c1c20"/>
<ellipse cx="473.80" cy="533.03" rx="0.97" ry="1.15" fill="#cfcfcf"/>
<ellipse cx="516.13" cy="508.80" rx="1.90" ry="2.10" fill="#1c1c20"/>
<ellipse cx="516.23" cy="508.80" rx="0.84" ry="1.00" fill="#cfcfcf"/>
<ellipse cx="511.80" cy="511.30" rx="1.90" ry="2.10" fill="#1c1c20"/>
<ellipse cx="511.90" cy="511.30" rx="0.84" ry="1.00" fill="#cfcfcf"/>
<ellipse cx="507.47" cy="513.80" rx="1.90" ry="2.10" fill="#1c1c20"/>
<ellipse cx="507.57" cy="513.80" rx="0.84" ry="1.00" fill="#cfcfcf"/>
<ellipse cx="484.95" cy="526.80" rx="1.90" ry="2.10" fill="#1c1c20"/>
<ellipse cx="485.05" cy="526.80" rx="0.84" ry="1.00" fill="#cfcfcf"/>
<ellipse cx="483.50" cy="525.66" rx="0.45" ry="0.45" fill="#d9b98a"/>
<ellipse cx="488.00" cy="523.06" rx="0.45" ry="0.45" fill="#d9b98a"/>
<ellipse cx="492.51" cy="520.46" rx="0.45" ry="0.45" fill="#d9b98a"/>
<ellipse cx="497.01" cy="517.86" rx="0.45" ry="0.45" fill="#d9b98a"/>
<ellipse cx="501.51" cy="515.26" rx="0.45" ry="0.45" fill="#d9b98a"/>
<ellipse cx="506.02" cy="512.66" rx="0.45" ry="0.45" fill="#d9b98a"/>
<g transform="translate(495.76 508.90) matrix(0.866 -0.500 0 1.000 0 0)">
<path d="M-6 -1 C-3 -5 3 -6 6 -4 C7 -2.6 5.5 -1.6 3.6 -1.4 C3.2 -2.8 0 -3.2 -3 -2 Z" fill="#cf0a2c"/>
<path d="M7.5 -3.6 L3.8 -2.6 C3 -0.6 -0.5 -0.6 -1.2 -2.2 C-3.4 -1.4 -2.6 1 1 1 C4 1 6.4 -1.4 7.5 -3.6 Z" fill="#444"/>
<text x="-6.3" y="5.2" font-size="4.3" font-weight="700" fill="#cf0a2c" textLength="13" lengthAdjust="spacingAndGlyphs">loginter</text>
</g>
<polygon points="499.76,503.55 503.40,505.65 503.40,501.45 499.76,499.35" fill="#e0a870" stroke="#b88450" stroke-width="0.25"/>
<polygon points="503.40,505.65 507.04,503.55 507.04,499.35 503.40,501.45" fill="#d2965c" stroke="#b88450" stroke-width="0.25"/>
<polygon points="499.76,499.35 503.40,497.25 507.04,499.35 503.40,501.45" fill="#f1c48e" stroke="#b88450" stroke-width="0.25"/>
<polygon points="503.31,505.90 509.55,509.50 509.55,508.60 503.31,505.00" fill="#b98a4e" stroke="#b0874f" stroke-width="0.25"/>
<polygon points="509.55,509.50 515.61,506.00 515.61,505.10 509.55,508.60" fill="#c99a5a" stroke="#b0874f" stroke-width="0.25"/>
<polygon points="503.31,505.00 509.38,501.50 515.61,505.10 509.55,508.60" fill="#d9b07a" stroke="#b0874f" stroke-width="0.25"/>
<path d="M506.96 498.65 L506.96 505.25 A2.50 1.38 0 0 0 511.96 505.25 L511.96 498.65 Z" fill="#2e8fd0"/>
<path d="M509.46 498.65 L509.46 506.62 A2.50 1.38 0 0 0 511.96 505.25 L511.96 498.65 Z" fill="#1f75b3"/>
<ellipse cx="509.46" cy="498.65" rx="2.50" ry="1.38" fill="#5bb5ea"/>
<polygon points="511.80,496.60 516.80,494.00 524.00,498.20 519.00,501.00" fill="#4f9fe0"/>
<polygon points="511.80,496.60 519.00,501.00 519.00,502.20 511.80,497.80" fill="#2f7fc2"/>
<polygon points="525.60,498.00 527.60,497.00 527.60,503.60 525.60,502.60" fill="#2f86c8"/>
<polygon points="567.20,492.00 595.00,476.20 618.10,490.40 590.60,506.70" fill="#d9a866"/>
<polygon points="568.60,491.70 595.00,476.90 616.60,490.20 590.60,505.60" fill="#4d4e52"/>
<polygon points="567.20,492.00 590.60,506.70 618.10,490.40 618.10,491.20 590.60,507.60 567.20,492.90" fill="#b98a4e"/>
<polygon points="600.40,482.60 606.03,485.85 606.03,484.95 600.40,481.70" fill="#b98a4e"/>
<polygon points="606.03,485.85 612.52,482.10 612.52,481.20 606.03,484.95" fill="#c99a5a"/>
<polygon points="600.40,481.70 606.90,477.95 612.52,481.20 606.03,484.95" fill="#d9a866"/>
<polygon points="601.09,481.70 606.03,484.55 606.03,480.75 601.09,477.90" fill="#e3b87c" stroke="#ba9159" stroke-width="0.25"/>
<polygon points="606.03,484.55 611.83,481.20 611.83,477.40 606.03,480.75" fill="#d4a566" stroke="#ba9159" stroke-width="0.25"/>
<polygon points="601.09,477.90 606.90,474.55 611.83,477.40 606.03,480.75" fill="#f0cf9a" stroke="#ba9159" stroke-width="0.25"/>
<polygon points="604.00,489.00 609.63,492.25 609.63,491.35 604.00,488.10" fill="#b98a4e"/>
<polygon points="609.63,492.25 618.29,487.25 618.29,486.35 609.63,491.35" fill="#c99a5a"/>
<polygon points="604.00,488.10 612.66,483.10 618.29,486.35 609.63,491.35" fill="#d9a866"/>
<polygon points="604.69,488.10 609.63,490.95 609.63,487.55 604.69,484.70" fill="#e3b87c" stroke="#ba9159" stroke-width="0.25"/>
<polygon points="609.63,490.95 617.60,486.35 617.60,482.95 609.63,487.55" fill="#d4a566" stroke="#ba9159" stroke-width="0.25"/>
<polygon points="604.69,484.70 612.66,480.10 617.60,482.95 609.63,487.55" fill="#f0cf9a" stroke="#ba9159" stroke-width="0.25"/>
<polygon points="577.80,483.60 583.00,486.60 583.00,478.00 577.80,475.00" fill="#e9ecee"/>
<polygon points="583.00,486.60 588.37,483.50 588.37,474.90 583.00,478.00" fill="#d6dadd"/>
<polygon points="577.80,475.00 583.17,471.90 588.37,474.90 583.00,478.00" fill="#ffffff"/>
<polygon points="578.48,482.51 580.90,483.91 580.90,480.21 578.48,478.81" fill="#1e9a8e"/>
<polygon points="584.75,482.61 587.69,480.91 587.69,476.71 584.75,478.41" fill="#3a3f45"/>
<polygon points="591.16,482.40 591.16,478.41 593.25,478.41 593.25,482.40" fill="#33343c"/>
<polygon points="590.87,478.60 590.87,475.18 593.53,475.18 593.53,478.60" fill="#d8232f"/>
<ellipse cx="592.20" cy="474.32" rx="1.00" ry="1.09" fill="#e9b48e"/>
<path d="M591.01 474.13 a1.19 1.19 0 0 1 2.38 0 Z" fill="#f6c62c"/>
<polygon points="583.50,489.00 592.50,484.00 596.50,486.40 587.50,491.40" fill="#2a2c31"/>
<path d="M586.5 486.6 L591.5 484.6 L596.0 485.2 L599.0 488.0" fill="none" stroke="#f0c030" stroke-width="1.6" stroke-linejoin="round" stroke-linecap="round"/>
<path d="M596.30 489.20 L596.30 493.60 A2.10 1.16 0 0 0 600.50 493.60 L600.50 489.20 Z" fill="#e4e6ea"/>
<path d="M598.40 489.20 L598.40 494.75 A2.10 1.16 0 0 0 600.50 493.60 L600.50 489.20 Z" fill="#cfd3d8"/>
<ellipse cx="598.40" cy="489.20" rx="2.10" ry="1.16" fill="#ffffff"/>
<path d="M595.5 486.0 L598.6 487.6 L598.4 489.6" fill="none" stroke="#f0c030" stroke-width="1.4" stroke-linecap="round"/>
<polygon points="582.20,494.20 587.92,497.50 587.92,496.60 582.20,493.30" fill="#b98a4e"/>
<polygon points="587.92,497.50 596.58,492.50 596.58,491.60 587.92,496.60" fill="#c99a5a"/>
<polygon points="582.20,493.30 590.86,488.30 596.58,491.60 587.92,496.60" fill="#d9a866"/>
<polygon points="582.89,493.30 587.92,496.20 587.92,492.60 582.89,489.70" fill="#e3b87c" stroke="#ba9159" stroke-width="0.25"/>
<polygon points="587.92,496.20 595.88,491.60 595.88,488.00 587.92,492.60" fill="#d4a566" stroke="#ba9159" stroke-width="0.25"/>
<polygon points="582.89,489.70 590.86,485.10 595.88,488.00 587.92,492.60" fill="#f0cf9a" stroke="#ba9159" stroke-width="0.25"/>
<polygon points="588.60,500.20 594.14,503.40 594.14,502.50 588.60,499.30" fill="#b98a4e"/>
<polygon points="594.14,503.40 603.67,497.90 603.67,497.00 594.14,502.50" fill="#c99a5a"/>
<polygon points="588.60,499.30 598.13,493.80 603.67,497.00 594.14,502.50" fill="#d9a866"/>
<polygon points="589.29,499.30 594.14,502.10 594.14,499.30 589.29,496.50" fill="#e3b87c" stroke="#ba9159" stroke-width="0.25"/>
<polygon points="594.14,502.10 602.98,497.00 602.98,494.20 594.14,499.30" fill="#d4a566" stroke="#ba9159" stroke-width="0.25"/>
<polygon points="589.29,496.50 598.13,491.40 602.98,494.20 594.14,499.30" fill="#f0cf9a" stroke="#ba9159" stroke-width="0.25"/>
<polygon points="580.00,488.90 588.10,484.80 588.10,494.20 580.00,498.30" fill="#f2c72e" opacity="0.35"/>
<polygon points="580.00,488.90 588.10,484.80 588.10,494.20 580.00,498.30" fill="none" stroke="#e2b21e" stroke-width="0.7"/>
<polygon points="580.00,488.90 591.90,495.75 591.90,505.15 580.00,498.30" fill="#f2c72e" opacity="0.5"/>
<polygon points="580.00,488.90 591.90,495.75 591.90,505.15 580.00,498.30" fill="none" stroke="#e2b21e" stroke-width="0.7"/>
<polygon points="594.70,480.10 605.00,474.50 605.00,482.70 594.70,488.30" fill="#f2c72e" opacity="0.35"/>
<polygon points="594.70,480.10 605.00,474.50 605.00,482.70 594.70,488.30" fill="none" stroke="#e2b21e" stroke-width="0.7"/>
<polygon points="605.00,474.50 616.60,480.75 616.60,488.95 605.00,482.70" fill="#f2c72e" opacity="0.45"/>
<polygon points="605.00,474.50 616.60,480.75 616.60,488.95 605.00,482.70" fill="none" stroke="#e2b21e" stroke-width="0.7"/>
<ellipse cx="598.30" cy="480.60" rx="1.20" ry="1.50" fill="#8fb3e8"/>
<polygon points="413.80,541.20 419.50,537.60 455.50,566.00 449.50,569.50" fill="#8cc63f"/>
<polygon points="424.38,550.50 425.62,550.50 425.62,546.32 424.38,546.32" fill="#9c6353"/>
<path d="M424.62 535.11 C423.48 539.38 421.30 542.90 421.49 545.94 C422.15 547.27 423.67 547.55 424.71 547.46 Z" fill="#afc96f"/>
<path d="M424.62 535.11 C425.76 539.38 428.23 542.71 428.13 545.75 C427.66 547.08 425.95 547.55 424.71 547.46 Z" fill="#8faa52"/>
<polygon points="430.68,555.20 431.92,555.20 431.92,551.02 430.68,551.02" fill="#9c6353"/>
<path d="M430.92 539.81 C429.78 544.09 427.60 547.60 427.79 550.64 C428.45 551.97 429.97 552.25 431.01 552.16 Z" fill="#afc96f"/>
<path d="M430.92 539.81 C432.06 544.09 434.53 547.41 434.44 550.45 C433.96 551.78 432.25 552.25 431.01 552.16 Z" fill="#8faa52"/>
<polygon points="437.58,560.00 438.82,560.00 438.82,555.82 437.58,555.82" fill="#9c6353"/>
<path d="M437.82 544.61 C436.68 548.88 434.50 552.40 434.69 555.44 C435.35 556.77 436.87 557.05 437.91 556.96 Z" fill="#afc96f"/>
<path d="M437.82 544.61 C438.96 548.88 441.43 552.21 441.33 555.25 C440.86 556.58 439.15 557.05 437.91 556.96 Z" fill="#8faa52"/>
<polygon points="444.58,564.70 445.82,564.70 445.82,560.52 444.58,560.52" fill="#9c6353"/>
<path d="M444.82 549.31 C443.68 553.59 441.50 557.10 441.69 560.14 C442.35 561.47 443.87 561.75 444.91 561.66 Z" fill="#afc96f"/>
<path d="M444.82 549.31 C445.96 553.59 448.43 556.91 448.33 559.95 C447.86 561.28 446.15 561.75 444.91 561.66 Z" fill="#8faa52"/>
<polygon points="451.58,569.20 452.82,569.20 452.82,565.02 451.58,565.02" fill="#9c6353"/>
<path d="M451.82 553.81 C450.68 558.09 448.50 561.60 448.69 564.64 C449.35 565.97 450.87 566.25 451.91 566.16 Z" fill="#afc96f"/>
<path d="M451.82 553.81 C452.96 558.09 455.43 561.41 455.33 564.45 C454.86 565.78 453.15 566.25 451.91 566.16 Z" fill="#8faa52"/>
<polygon points="377.90,583.00 403.60,598.00 403.60,625.60 377.90,610.50" fill="#d8353d"/>
<polygon points="403.60,598.00 450.30,574.00 450.30,598.30 403.60,625.60" fill="#e2464d"/>
<line x1="379.33" y1="586.83" x2="379.33" y2="611.34" stroke="#ef6b6b" stroke-width="1.1"/>
<line x1="380.53" y1="587.43" x2="380.53" y2="612.04" stroke="#bf252e" stroke-width="0.6"/>
<line x1="382.18" y1="588.50" x2="382.18" y2="613.02" stroke="#ef6b6b" stroke-width="1.1"/>
<line x1="383.38" y1="589.10" x2="383.38" y2="613.72" stroke="#bf252e" stroke-width="0.6"/>
<line x1="385.04" y1="590.17" x2="385.04" y2="614.69" stroke="#ef6b6b" stroke-width="1.1"/>
<line x1="386.24" y1="590.77" x2="386.24" y2="615.39" stroke="#bf252e" stroke-width="0.6"/>
<line x1="387.89" y1="591.83" x2="387.89" y2="616.37" stroke="#ef6b6b" stroke-width="1.1"/>
<line x1="389.09" y1="592.43" x2="389.09" y2="617.07" stroke="#bf252e" stroke-width="0.6"/>
<line x1="390.75" y1="593.50" x2="390.75" y2="618.05" stroke="#ef6b6b" stroke-width="1.1"/>
<line x1="391.95" y1="594.10" x2="391.95" y2="618.75" stroke="#bf252e" stroke-width="0.6"/>
<line x1="393.61" y1="595.17" x2="393.61" y2="619.73" stroke="#ef6b6b" stroke-width="1.1"/>
<line x1="394.81" y1="595.77" x2="394.81" y2="620.43" stroke="#bf252e" stroke-width="0.6"/>
<line x1="396.46" y1="596.83" x2="396.46" y2="621.41" stroke="#ef6b6b" stroke-width="1.1"/>
<line x1="397.66" y1="597.43" x2="397.66" y2="622.11" stroke="#bf252e" stroke-width="0.6"/>
<line x1="399.32" y1="598.50" x2="399.32" y2="623.08" stroke="#ef6b6b" stroke-width="1.1"/>
<line x1="400.52" y1="599.10" x2="400.52" y2="623.78" stroke="#bf252e" stroke-width="0.6"/>
<line x1="402.17" y1="600.17" x2="402.17" y2="624.76" stroke="#ef6b6b" stroke-width="1.1"/>
<line x1="403.37" y1="600.77" x2="403.37" y2="625.46" stroke="#bf252e" stroke-width="0.6"/>
<line x1="404.97" y1="600.29" x2="404.97" y2="624.80" stroke="#f07777" stroke-width="1.1"/>
<line x1="406.17" y1="599.69" x2="406.17" y2="624.10" stroke="#c92d36" stroke-width="0.6"/>
<line x1="407.72" y1="598.88" x2="407.72" y2="623.19" stroke="#f07777" stroke-width="1.1"/>
<line x1="408.92" y1="598.28" x2="408.92" y2="622.49" stroke="#c92d36" stroke-width="0.6"/>
<line x1="410.47" y1="597.47" x2="410.47" y2="621.59" stroke="#f07777" stroke-width="1.1"/>
<line x1="411.67" y1="596.87" x2="411.67" y2="620.89" stroke="#c92d36" stroke-width="0.6"/>
<line x1="413.21" y1="596.06" x2="413.21" y2="619.98" stroke="#f07777" stroke-width="1.1"/>
<line x1="414.41" y1="595.46" x2="414.41" y2="619.28" stroke="#c92d36" stroke-width="0.6"/>
<line x1="415.96" y1="594.65" x2="415.96" y2="618.37" stroke="#f07777" stroke-width="1.1"/>
<line x1="417.16" y1="594.05" x2="417.16" y2="617.67" stroke="#c92d36" stroke-width="0.6"/>
<line x1="418.71" y1="593.24" x2="418.71" y2="616.77" stroke="#f07777" stroke-width="1.1"/>
<line x1="419.91" y1="592.64" x2="419.91" y2="616.07" stroke="#c92d36" stroke-width="0.6"/>
<line x1="421.46" y1="591.82" x2="421.46" y2="615.16" stroke="#f07777" stroke-width="1.1"/>
<line x1="422.66" y1="591.22" x2="422.66" y2="614.46" stroke="#c92d36" stroke-width="0.6"/>
<line x1="424.20" y1="590.41" x2="424.20" y2="613.56" stroke="#f07777" stroke-width="1.1"/>
<line x1="425.40" y1="589.81" x2="425.40" y2="612.86" stroke="#c92d36" stroke-width="0.6"/>
<line x1="426.95" y1="589.00" x2="426.95" y2="611.95" stroke="#f07777" stroke-width="1.1"/>
<line x1="428.15" y1="588.40" x2="428.15" y2="611.25" stroke="#c92d36" stroke-width="0.6"/>
<line x1="429.70" y1="587.59" x2="429.70" y2="610.34" stroke="#f07777" stroke-width="1.1"/>
<line x1="430.90" y1="586.99" x2="430.90" y2="609.64" stroke="#c92d36" stroke-width="0.6"/>
<line x1="432.44" y1="586.18" x2="432.44" y2="608.74" stroke="#f07777" stroke-width="1.1"/>
<line x1="433.64" y1="585.58" x2="433.64" y2="608.04" stroke="#c92d36" stroke-width="0.6"/>
<line x1="435.19" y1="584.76" x2="435.19" y2="607.13" stroke="#f07777" stroke-width="1.1"/>
<line x1="436.39" y1="584.16" x2="436.39" y2="606.43" stroke="#c92d36" stroke-width="0.6"/>
<line x1="437.94" y1="583.35" x2="437.94" y2="605.53" stroke="#f07777" stroke-width="1.1"/>
<line x1="439.14" y1="582.75" x2="439.14" y2="604.83" stroke="#c92d36" stroke-width="0.6"/>
<line x1="440.69" y1="581.94" x2="440.69" y2="603.92" stroke="#f07777" stroke-width="1.1"/>
<line x1="441.89" y1="581.34" x2="441.89" y2="603.22" stroke="#c92d36" stroke-width="0.6"/>
<line x1="443.43" y1="580.53" x2="443.43" y2="602.31" stroke="#f07777" stroke-width="1.1"/>
<line x1="444.63" y1="579.93" x2="444.63" y2="601.61" stroke="#c92d36" stroke-width="0.6"/>
<line x1="446.18" y1="579.12" x2="446.18" y2="600.71" stroke="#f07777" stroke-width="1.1"/>
<line x1="447.38" y1="578.52" x2="447.38" y2="600.01" stroke="#c92d36" stroke-width="0.6"/>
<line x1="448.93" y1="577.71" x2="448.93" y2="599.10" stroke="#f07777" stroke-width="1.1"/>
<line x1="450.13" y1="577.11" x2="450.13" y2="598.40" stroke="#c92d36" stroke-width="0.6"/>
<polygon points="381.00,596.00 399.80,606.80 399.80,622.80 381.00,611.80" fill="#f3f3f5"/>
<polygon points="382.20,598.20 398.80,607.80 398.80,621.60 382.20,611.90" fill="#b9c8dc"/>
<line x1="382.20" y1="600.50" x2="398.80" y2="610.10" stroke="#a8b8cf" stroke-width="0.4"/>
<line x1="382.20" y1="602.80" x2="398.80" y2="612.40" stroke="#a8b8cf" stroke-width="0.4"/>
<line x1="382.20" y1="605.10" x2="398.80" y2="614.70" stroke="#a8b8cf" stroke-width="0.4"/>
<line x1="382.20" y1="607.40" x2="398.80" y2="617.00" stroke="#a8b8cf" stroke-width="0.4"/>
<line x1="382.20" y1="609.70" x2="398.80" y2="619.30" stroke="#a8b8cf" stroke-width="0.4"/>
<polygon points="409.50,604.00 414.70,601.00 414.70,603.20 409.50,606.20" fill="#f6f0f0"/>
<polygon points="418.00,599.20 423.20,596.20 423.20,598.40 418.00,601.40" fill="#f6f0f0"/>
<polygon points="434.50,589.30 439.70,586.30 439.70,588.50 434.50,591.50" fill="#f6f0f0"/>
<polygon points="443.50,584.30 448.70,581.30 448.70,583.50 443.50,586.50" fill="#f6f0f0"/>
<polygon points="442.30,593.50 446.80,591.00 446.80,599.60 442.30,602.20" fill="#27405f"/>
<polygon points="376.00,581.70 405.10,596.00 405.10,599.30 376.00,585.00" fill="#a9bfdc"/>
<polygon points="405.10,596.00 452.10,572.30 452.10,575.60 405.10,599.30" fill="#93abc9"/>
<polygon points="376.00,581.70 423.00,554.10 452.10,572.30 405.10,596.00" fill="#c5d7ee"/>
<polygon points="380.50,581.80 423.00,556.80 447.60,572.20 405.10,593.20" fill="#e1ebf7"/>
<polygon points="407.60,577.60 412.52,574.73 416.68,577.29 411.76,580.16" fill="#3a5f9a"/>
<polygon points="412.80,580.80 417.72,577.93 421.88,580.49 416.96,583.36" fill="#3a5f9a"/>
<polygon points="413.60,574.10 418.52,571.23 422.68,573.79 417.76,576.66" fill="#3a5f9a"/>
<polygon points="418.80,577.30 423.72,574.43 427.88,576.99 422.96,579.86" fill="#3a5f9a"/>
<polygon points="419.60,570.60 424.52,567.73 428.68,570.29 423.76,573.16" fill="#3a5f9a"/>
<polygon points="424.80,573.80 429.72,570.93 433.88,573.49 428.96,576.36" fill="#3a5f9a"/>
<polygon points="668.75,267.20 777.00,196.00 962.50,292.50 853.75,362.00" fill="#6e6e6e"/>
<polygon points="742.60,300.20 833.20,238.60 945.40,292.40 853.75,354.40" fill="#7fb0ba"/>
<polygon points="745.00,300.00 833.20,240.40 942.50,292.50 853.75,352.50" fill="#edf3f5"/>
<polygon points="746.00,261.40 833.20,201.40 833.20,240.40 746.00,300.00" fill="#808184"/>
<polygon points="776.20,240.36 778.40,238.86 778.40,277.86 776.20,279.36" fill="#9a9b9e"/>
<polygon points="802.40,222.45 804.60,220.95 804.60,259.95 802.40,261.45" fill="#9a9b9e"/>
<polygon points="753.30,256.80 774.00,243.20 774.00,249.40 753.30,263.00" fill="#7fd0de"/>
<polygon points="753.30,256.80 774.00,243.20 774.00,244.20 753.30,257.80" fill="#c9eef4"/>
<polygon points="778.90,240.00 800.30,225.90 800.30,232.10 778.90,246.20" fill="#7fd0de"/>
<polygon points="778.90,240.00 800.30,225.90 800.30,226.90 778.90,241.00" fill="#c9eef4"/>
<polygon points="804.90,222.80 826.90,208.40 826.90,214.60 804.90,229.00" fill="#7fd0de"/>
<polygon points="804.90,222.80 826.90,208.40 826.90,209.40 804.90,223.80" fill="#c9eef4"/>
<polygon points="746.00,260.40 833.20,200.40 834.60,201.20 747.40,261.20" fill="#bfe3ea"/>
<polygon points="833.20,201.20 942.20,253.80 942.20,292.40 833.20,240.40" fill="#4e4f52"/>
<polygon points="856.90,222.00 888.10,237.20 888.10,267.40 856.90,252.30" fill="#f2f3f5"/>
<line x1="860.37" y1="223.69" x2="860.37" y2="253.98" stroke="#e3e5e8" stroke-width="0.5"/>
<line x1="863.83" y1="225.38" x2="863.83" y2="255.66" stroke="#e3e5e8" stroke-width="0.5"/>
<line x1="867.30" y1="227.07" x2="867.30" y2="257.33" stroke="#e3e5e8" stroke-width="0.5"/>
<line x1="870.77" y1="228.76" x2="870.77" y2="259.01" stroke="#e3e5e8" stroke-width="0.5"/>
<line x1="874.23" y1="230.44" x2="874.23" y2="260.69" stroke="#e3e5e8" stroke-width="0.5"/>
<line x1="877.70" y1="232.13" x2="877.70" y2="262.37" stroke="#e3e5e8" stroke-width="0.5"/>
<line x1="881.17" y1="233.82" x2="881.17" y2="264.04" stroke="#e3e5e8" stroke-width="0.5"/>
<line x1="884.63" y1="235.51" x2="884.63" y2="265.72" stroke="#e3e5e8" stroke-width="0.5"/>
<polygon points="856.90,222.00 858.50,222.80 858.50,253.10 856.90,252.30" fill="#a9abb0"/>
<polygon points="887.10,236.70 888.10,237.20 888.10,267.40 887.10,266.90" fill="#6fa6c4"/>
<polygon points="900.00,246.00 931.25,261.20 931.25,288.30 900.00,273.20" fill="#f2f3f5"/>
<line x1="903.47" y1="247.69" x2="903.47" y2="274.88" stroke="#e3e5e8" stroke-width="0.5"/>
<line x1="906.94" y1="249.38" x2="906.94" y2="276.56" stroke="#e3e5e8" stroke-width="0.5"/>
<line x1="910.42" y1="251.07" x2="910.42" y2="278.23" stroke="#e3e5e8" stroke-width="0.5"/>
<line x1="913.89" y1="252.76" x2="913.89" y2="279.91" stroke="#e3e5e8" stroke-width="0.5"/>
<line x1="917.36" y1="254.44" x2="917.36" y2="281.59" stroke="#e3e5e8" stroke-width="0.5"/>
<line x1="920.83" y1="256.13" x2="920.83" y2="283.27" stroke="#e3e5e8" stroke-width="0.5"/>
<line x1="924.31" y1="257.82" x2="924.31" y2="284.94" stroke="#e3e5e8" stroke-width="0.5"/>
<line x1="927.78" y1="259.51" x2="927.78" y2="286.62" stroke="#e3e5e8" stroke-width="0.5"/>
<polygon points="900.00,246.00 901.60,246.80 901.60,274.00 900.00,273.20" fill="#a9abb0"/>
<polygon points="930.25,260.70 931.25,261.20 931.25,288.30 930.25,287.80" fill="#6fa6c4"/>
<polygon points="852.05,218.20 855.45,219.90 855.45,221.50 852.05,219.80" fill="#f2b92c"/>
<polygon points="887.70,236.00 891.10,237.70 891.10,239.30 887.70,237.60" fill="#f2b92c"/>
<polygon points="895.80,239.90 899.20,241.60 899.20,243.20 895.80,241.50" fill="#f2b92c"/>
<polygon points="930.80,257.30 934.20,259.00 934.20,260.60 930.80,258.90" fill="#f2b92c"/>
<polygon points="833.20,200.20 942.20,252.80 943.80,252.20 834.80,199.60" fill="#bfe3ea"/>
<polygon points="942.20,252.80 943.80,252.20 943.80,292.20 942.20,293.00" fill="#9fd0da"/>
<polygon points="812.57,261.03 835.94,245.61 848.08,251.50 824.72,266.92" fill="#b7d6de" opacity="0.9"/>
<line x1="835.17" y1="247.15" x2="835.17" y2="213.15" stroke="#b8403c" stroke-width="1.25"/>
<line x1="844.62" y1="251.73" x2="844.62" y2="217.73" stroke="#b8403c" stroke-width="1.25"/>
<line x1="835.17" y1="247.15" x2="844.62" y2="243.23" stroke="#d9564f" stroke-width="0.8"/>
<line x1="835.17" y1="238.65" x2="844.62" y2="251.73" stroke="#d9564f" stroke-width="0.8"/>
<line x1="835.17" y1="238.65" x2="844.62" y2="243.23" stroke="#b8403c" stroke-width="0.8"/>
<line x1="835.17" y1="238.65" x2="844.62" y2="234.73" stroke="#d9564f" stroke-width="0.8"/>
<line x1="835.17" y1="230.15" x2="844.62" y2="243.23" stroke="#d9564f" stroke-width="0.8"/>
<line x1="835.17" y1="230.15" x2="844.62" y2="234.73" stroke="#b8403c" stroke-width="0.8"/>
<line x1="835.17" y1="230.15" x2="844.62" y2="226.23" stroke="#d9564f" stroke-width="0.8"/>
<line x1="835.17" y1="221.65" x2="844.62" y2="234.73" stroke="#d9564f" stroke-width="0.8"/>
<line x1="835.17" y1="221.65" x2="844.62" y2="226.23" stroke="#b8403c" stroke-width="0.8"/>
<line x1="835.17" y1="221.65" x2="844.62" y2="217.73" stroke="#d9564f" stroke-width="0.8"/>
<line x1="835.17" y1="213.15" x2="844.62" y2="226.23" stroke="#d9564f" stroke-width="0.8"/>
<line x1="835.17" y1="213.15" x2="844.62" y2="217.73" stroke="#b8403c" stroke-width="0.8"/>
<polygon points="814.30,259.72 823.75,264.30 823.75,263.40 814.30,258.82" fill="#e8ecef"/>
<polygon points="823.75,264.30 844.62,250.53 844.62,249.63 823.75,263.40" fill="#d8dee3"/>
<polygon points="814.30,258.82 835.17,245.05 844.62,249.63 823.75,263.40" fill="#ffffff"/>
<polygon points="830.64,249.06 838.11,252.69 838.11,247.83 830.64,244.20" fill="#f1c777"/>
<polygon points="838.11,252.69 842.36,249.88 842.36,245.02 838.11,247.83" fill="#e8b862"/>
<polygon points="830.64,244.20 834.89,241.40 842.36,245.02 838.11,247.83" fill="#fbe0a8"/>
<ellipse cx="834.95" cy="248.38" rx="0.55" ry="0.70" fill="#9fb6d6"/>
<polygon points="825.02,252.78 832.48,256.40 832.48,252.74 825.02,249.11" fill="#f1c777"/>
<polygon points="832.48,256.40 837.55,253.06 837.55,249.40 832.48,252.74" fill="#e8b862"/>
<polygon points="825.02,249.11 830.08,245.77 837.55,249.40 832.48,252.74" fill="#fbe0a8"/>
<ellipse cx="829.32" cy="252.75" rx="0.55" ry="0.70" fill="#9fb6d6"/>
<polygon points="814.30,251.84 823.75,256.43 823.75,255.53 814.30,250.94" fill="#e8ecef"/>
<polygon points="823.75,256.43 844.62,242.66 844.62,241.75 823.75,255.53" fill="#d8dee3"/>
<polygon points="814.30,250.94 835.17,237.17 844.62,241.75 823.75,255.53" fill="#ffffff"/>
<polygon points="830.64,241.19 838.11,244.81 838.11,240.12 830.64,236.50" fill="#f1c777"/>
<polygon points="838.11,244.81 843.61,241.18 843.61,236.49 838.11,240.12" fill="#e8b862"/>
<polygon points="830.64,236.50 836.14,232.87 843.61,236.49 838.11,240.12" fill="#fbe0a8"/>
<ellipse cx="834.95" cy="240.60" rx="0.55" ry="0.70" fill="#9fb6d6"/>
<polygon points="824.30,245.38 831.77,249.00 831.77,243.33 824.30,239.71" fill="#f1c777"/>
<polygon points="831.77,249.00 836.85,245.65 836.85,239.98 831.77,243.33" fill="#e8b862"/>
<polygon points="824.30,239.71 829.38,236.35 836.85,239.98 831.77,243.33" fill="#fbe0a8"/>
<ellipse cx="828.60" cy="244.25" rx="0.55" ry="0.70" fill="#9fb6d6"/>
<polygon points="817.68,249.74 825.15,253.36 825.15,249.70 817.68,246.08" fill="#f1c777"/>
<polygon points="825.15,253.36 830.31,249.96 830.31,246.30 825.15,249.70" fill="#e8b862"/>
<polygon points="817.68,246.08 822.84,242.68 830.31,246.30 825.15,249.70" fill="#fbe0a8"/>
<ellipse cx="821.99" cy="249.72" rx="0.55" ry="0.70" fill="#9fb6d6"/>
<polygon points="814.30,243.97 823.75,248.55 823.75,247.65 814.30,243.07" fill="#e8ecef"/>
<polygon points="823.75,248.55 844.62,234.78 844.62,233.88 823.75,247.65" fill="#d8dee3"/>
<polygon points="814.30,243.07 835.17,229.30 844.62,233.88 823.75,247.65" fill="#ffffff"/>
<polygon points="825.04,237.01 832.51,240.64 832.51,234.94 825.04,231.32" fill="#f1c777"/>
<polygon points="832.51,240.64 837.76,237.17 837.76,231.47 832.51,234.94" fill="#e8b862"/>
<polygon points="825.04,231.32 830.29,227.85 837.76,231.47 832.51,234.94" fill="#fbe0a8"/>
<ellipse cx="829.35" cy="235.87" rx="0.55" ry="0.70" fill="#9fb6d6"/>
<polygon points="818.04,241.63 825.51,245.25 825.51,239.75 818.04,236.13" fill="#f1c777"/>
<polygon points="825.51,245.25 830.09,242.23 830.09,236.73 825.51,239.75" fill="#e8b862"/>
<polygon points="818.04,236.13 822.62,233.11 830.09,236.73 825.51,239.75" fill="#fbe0a8"/>
<ellipse cx="822.35" cy="240.60" rx="0.55" ry="0.70" fill="#9fb6d6"/>
<polygon points="814.30,236.09 823.75,240.68 823.75,239.78 814.30,235.19" fill="#e8ecef"/>
<polygon points="823.75,240.68 844.62,226.91 844.62,226.00 823.75,239.78" fill="#d8dee3"/>
<polygon points="814.30,235.19 835.17,221.42 844.62,226.00 823.75,239.78" fill="#ffffff"/>
<polygon points="830.64,225.44 838.11,229.06 838.11,225.32 830.64,221.70" fill="#f1c777"/>
<polygon points="838.11,229.06 843.70,225.37 843.70,221.63 838.11,225.32" fill="#e8b862"/>
<polygon points="830.64,221.70 836.23,218.01 843.70,221.63 838.11,225.32" fill="#fbe0a8"/>
<ellipse cx="834.95" cy="225.37" rx="0.55" ry="0.70" fill="#9fb6d6"/>
<polygon points="824.13,229.74 831.60,233.36 831.60,228.77 824.13,225.15" fill="#f1c777"/>
<polygon points="831.60,233.36 837.37,229.55 837.37,224.96 831.60,228.77" fill="#e8b862"/>
<polygon points="824.13,225.15 829.90,221.34 837.37,224.96 831.60,228.77" fill="#fbe0a8"/>
<ellipse cx="828.44" cy="229.20" rx="0.55" ry="0.70" fill="#9fb6d6"/>
<polygon points="817.34,234.22 824.81,237.84 824.81,233.37 817.34,229.75" fill="#f1c777"/>
<polygon points="824.81,237.84 829.62,234.66 829.62,230.20 824.81,233.37" fill="#e8b862"/>
<polygon points="817.34,229.75 822.16,226.58 829.62,230.20 824.81,233.37" fill="#fbe0a8"/>
<ellipse cx="821.65" cy="233.75" rx="0.55" ry="0.70" fill="#9fb6d6"/>
<line x1="814.30" y1="260.92" x2="814.30" y2="226.92" stroke="#b8403c" stroke-width="1.25"/>
<line x1="823.75" y1="265.50" x2="823.75" y2="231.50" stroke="#b8403c" stroke-width="1.25"/>
<line x1="814.30" y1="260.92" x2="823.75" y2="257.00" stroke="#d9564f" stroke-width="0.8"/>
<line x1="814.30" y1="252.42" x2="823.75" y2="265.50" stroke="#d9564f" stroke-width="0.8"/>
<line x1="814.30" y1="252.42" x2="823.75" y2="257.00" stroke="#b8403c" stroke-width="0.8"/>
<line x1="814.30" y1="252.42" x2="823.75" y2="248.50" stroke="#d9564f" stroke-width="0.8"/>
<line x1="814.30" y1="243.92" x2="823.75" y2="257.00" stroke="#d9564f" stroke-width="0.8"/>
<line x1="814.30" y1="243.92" x2="823.75" y2="248.50" stroke="#b8403c" stroke-width="0.8"/>
<line x1="814.30" y1="243.92" x2="823.75" y2="240.00" stroke="#d9564f" stroke-width="0.8"/>
<line x1="814.30" y1="235.42" x2="823.75" y2="248.50" stroke="#d9564f" stroke-width="0.8"/>
<line x1="814.30" y1="235.42" x2="823.75" y2="240.00" stroke="#b8403c" stroke-width="0.8"/>
<line x1="814.30" y1="235.42" x2="823.75" y2="231.50" stroke="#d9564f" stroke-width="0.8"/>
<line x1="814.30" y1="226.92" x2="823.75" y2="240.00" stroke="#d9564f" stroke-width="0.8"/>
<line x1="814.30" y1="226.92" x2="823.75" y2="231.50" stroke="#b8403c" stroke-width="0.8"/>
<polygon points="838.45,280.94 871.00,259.45 880.45,264.04 847.90,285.52" fill="#b7d6de" opacity="0.9"/>
<polygon points="842.34,280.43 847.28,282.83 847.28,273.73 842.34,271.33" fill="#c3dbe4"/>
<polygon points="847.28,282.83 875.66,264.10 875.66,255.00 847.28,273.73" fill="#b3d0db"/>
<polygon points="842.34,271.33 870.71,252.60 875.66,255.00 847.28,273.73" fill="#cfe3ea"/>
<line x1="847.50" y1="283.20" x2="847.50" y2="273.90" stroke="#eef5f8" stroke-width="0.9"/>
<line x1="857.12" y1="276.86" x2="857.12" y2="267.56" stroke="#eef5f8" stroke-width="0.9"/>
<line x1="866.73" y1="270.51" x2="866.73" y2="261.21" stroke="#eef5f8" stroke-width="0.9"/>
<line x1="876.34" y1="264.17" x2="876.34" y2="254.87" stroke="#eef5f8" stroke-width="0.9"/>
<polygon points="841.05,271.66 846.90,274.50 846.90,272.70 841.05,269.86" fill="#22262b"/>
<polygon points="846.90,274.50 876.95,254.67 876.95,252.87 846.90,272.70" fill="#2c3036"/>
<polygon points="841.05,269.86 871.10,250.03 876.95,252.87 846.90,272.70" fill="#3b4046"/>
<line x1="850.49" y1="271.65" x2="854.16" y2="269.23" stroke="#cfd6dc" stroke-width="1.1"/>
<line x1="860.10" y1="265.31" x2="863.78" y2="262.88" stroke="#cfd6dc" stroke-width="1.1"/>
<line x1="869.72" y1="258.96" x2="873.39" y2="256.54" stroke="#cfd6dc" stroke-width="1.1"/>
<ellipse cx="851.30" cy="266.50" rx="3.00" ry="1.50" fill="#b7d6de"/>
<polygon points="850.00,266.20 849.90,257.00 852.70,257.00 852.60,266.20 851.55,266.20 851.30,259.20 851.05,266.20" fill="#6a6e78"/>
<polygon points="849.70,257.40 849.30,250.60 853.30,250.60 852.90,257.40" fill="#d2303a"/>
<ellipse cx="851.30" cy="248.90" rx="1.40" ry="1.60" fill="#e8b48c"/>
<path d="M849.60 248.60 a1.70 1.80 0 0 1 3.40 0 Z" fill="#f5c32c"/>
<polygon points="857.50,257.50 862.00,259.68 862.00,255.48 857.50,253.30" fill="#f1c777"/>
<polygon points="862.00,259.68 866.59,256.65 866.59,252.45 862.00,255.48" fill="#e8b862"/>
<polygon points="857.50,253.30 862.09,250.27 866.59,252.45 862.00,255.48" fill="#fbe0a8"/>
<ellipse cx="860.17" cy="256.39" rx="0.55" ry="0.70" fill="#9fb6d6"/>
<polygon points="870.00,249.70 874.05,251.66 874.05,248.46 870.00,246.50" fill="#f1c777"/>
<polygon points="874.05,251.66 878.64,248.63 878.64,245.43 874.05,248.46" fill="#e8b862"/>
<polygon points="870.00,246.50 874.59,243.47 878.64,245.43 874.05,248.46" fill="#fbe0a8"/>
<polygon points="770.15,285.59 782.25,277.60 807.89,290.04 795.79,298.03" fill="#b7d6de" opacity="0.9"/>
<line x1="772.30" y1="285.20" x2="772.30" y2="254.20" stroke="#b8403c" stroke-width="1.25"/>
<line x1="781.90" y1="278.87" x2="781.90" y2="247.87" stroke="#b8403c" stroke-width="1.25"/>
<line x1="772.30" y1="285.20" x2="781.90" y2="271.12" stroke="#d9564f" stroke-width="0.8"/>
<line x1="772.30" y1="277.45" x2="781.90" y2="278.87" stroke="#d9564f" stroke-width="0.8"/>
<line x1="772.30" y1="277.45" x2="781.90" y2="271.12" stroke="#b8403c" stroke-width="0.8"/>
<line x1="772.30" y1="277.45" x2="781.90" y2="263.37" stroke="#d9564f" stroke-width="0.8"/>
<line x1="772.30" y1="269.70" x2="781.90" y2="271.12" stroke="#d9564f" stroke-width="0.8"/>
<line x1="772.30" y1="269.70" x2="781.90" y2="263.37" stroke="#b8403c" stroke-width="0.8"/>
<line x1="772.30" y1="269.70" x2="781.90" y2="255.62" stroke="#d9564f" stroke-width="0.8"/>
<line x1="772.30" y1="261.95" x2="781.90" y2="263.37" stroke="#d9564f" stroke-width="0.8"/>
<line x1="772.30" y1="261.95" x2="781.90" y2="255.62" stroke="#b8403c" stroke-width="0.8"/>
<line x1="772.30" y1="261.95" x2="781.90" y2="247.87" stroke="#d9564f" stroke-width="0.8"/>
<line x1="772.30" y1="254.20" x2="781.90" y2="255.62" stroke="#d9564f" stroke-width="0.8"/>
<line x1="772.30" y1="254.20" x2="781.90" y2="247.87" stroke="#b8403c" stroke-width="0.8"/>
<polygon points="772.30,284.00 795.24,295.13 795.24,294.23 772.30,283.10" fill="#e8ecef"/>
<polygon points="795.24,295.13 804.84,288.79 804.84,287.89 795.24,294.23" fill="#d8dee3"/>
<polygon points="772.30,283.10 781.90,276.77 804.84,287.89 795.24,294.23" fill="#ffffff"/>
<polygon points="774.03,282.99 779.76,285.76 779.76,280.76 774.03,277.98" fill="#f1c777"/>
<polygon points="779.76,285.76 787.28,280.81 787.28,275.81 779.76,280.76" fill="#e8b862"/>
<polygon points="774.03,277.98 781.55,273.03 787.28,275.81 779.76,280.76" fill="#fbe0a8"/>
<ellipse cx="777.39" cy="281.76" rx="0.55" ry="0.70" fill="#9fb6d6"/>
<polygon points="781.93,286.81 787.97,289.75 787.97,284.38 781.93,281.45" fill="#f1c777"/>
<polygon points="787.97,289.75 795.48,284.79 795.48,279.42 787.97,284.38" fill="#e8b862"/>
<polygon points="781.93,281.45 789.44,276.49 795.48,279.42 787.97,284.38" fill="#fbe0a8"/>
<ellipse cx="785.45" cy="285.47" rx="0.55" ry="0.70" fill="#9fb6d6"/>
<polygon points="772.30,276.88 795.24,288.00 795.24,287.10 772.30,275.97" fill="#e8ecef"/>
<polygon points="795.24,288.00 804.84,281.67 804.84,280.77 795.24,287.10" fill="#d8dee3"/>
<polygon points="772.30,275.97 781.90,269.64 804.84,280.77 795.24,287.10" fill="#ffffff"/>
<polygon points="774.03,275.86 779.35,278.44 779.35,274.44 774.03,271.86" fill="#f1c777"/>
<polygon points="779.35,278.44 786.86,273.48 786.86,269.48 779.35,274.44" fill="#e8b862"/>
<polygon points="774.03,271.86 781.55,266.90 786.86,269.48 779.35,274.44" fill="#fbe0a8"/>
<ellipse cx="777.16" cy="275.08" rx="0.55" ry="0.70" fill="#9fb6d6"/>
<polygon points="780.95,279.21 785.03,281.19 785.03,277.26 780.95,275.27" fill="#f1c777"/>
<polygon points="785.03,281.19 792.54,276.24 792.54,272.30 785.03,277.26" fill="#e8b862"/>
<polygon points="780.95,275.27 788.46,270.32 792.54,272.30 785.03,277.26" fill="#fbe0a8"/>
<ellipse cx="783.39" cy="278.14" rx="0.55" ry="0.70" fill="#9fb6d6"/>
<polygon points="787.15,282.22 793.27,285.19 793.27,281.37 787.15,278.40" fill="#f1c777"/>
<polygon points="793.27,285.19 800.78,280.23 800.78,276.41 793.27,281.37" fill="#e8b862"/>
<polygon points="787.15,278.40 794.66,273.44 800.78,276.41 793.27,281.37" fill="#fbe0a8"/>
<ellipse cx="790.72" cy="281.75" rx="0.55" ry="0.70" fill="#9fb6d6"/>
<polygon points="772.30,269.75 795.24,280.88 795.24,279.98 772.30,268.85" fill="#e8ecef"/>
<polygon points="795.24,280.88 804.84,274.54 804.84,273.64 795.24,279.98" fill="#d8dee3"/>
<polygon points="772.30,268.85 781.90,262.52 804.84,273.64 795.24,279.98" fill="#ffffff"/>
<polygon points="774.03,268.74 779.75,271.51 779.75,267.75 774.03,264.98" fill="#f1c777"/>
<polygon points="779.75,271.51 787.26,266.55 787.26,262.79 779.75,267.75" fill="#e8b862"/>
<polygon points="774.03,264.98 781.55,260.02 787.26,262.79 779.75,267.75" fill="#fbe0a8"/>
<ellipse cx="777.38" cy="268.19" rx="0.55" ry="0.70" fill="#9fb6d6"/>
<polygon points="788.47,275.74 793.30,278.08 793.30,272.63 788.47,270.29" fill="#f1c777"/>
<polygon points="793.30,278.08 800.81,273.12 800.81,267.68 793.30,272.63" fill="#e8b862"/>
<polygon points="788.47,270.29 795.98,265.33 800.81,267.68 793.30,272.63" fill="#fbe0a8"/>
<ellipse cx="791.33" cy="274.03" rx="0.55" ry="0.70" fill="#9fb6d6"/>
<polygon points="772.30,262.62 795.24,273.75 795.24,272.85 772.30,261.72" fill="#e8ecef"/>
<polygon points="795.24,273.75 804.84,267.42 804.84,266.52 795.24,272.85" fill="#d8dee3"/>
<polygon points="772.30,261.72 781.90,255.39 804.84,266.52 795.24,272.85" fill="#ffffff"/>
<polygon points="774.03,261.61 778.64,263.84 778.64,258.44 774.03,256.21" fill="#f1c777"/>
<polygon points="778.64,263.84 786.15,258.89 786.15,253.48 778.64,258.44" fill="#e8b862"/>
<polygon points="774.03,256.21 781.55,251.25 786.15,253.48 778.64,258.44" fill="#fbe0a8"/>
<ellipse cx="776.77" cy="259.87" rx="0.55" ry="0.70" fill="#9fb6d6"/>
<polygon points="780.83,264.91 787.30,268.04 787.30,263.94 780.83,260.80" fill="#f1c777"/>
<polygon points="787.30,268.04 794.81,263.09 794.81,258.98 787.30,263.94" fill="#e8b862"/>
<polygon points="780.83,260.80 788.35,255.85 794.81,258.98 787.30,263.94" fill="#fbe0a8"/>
<ellipse cx="784.59" cy="264.37" rx="0.55" ry="0.70" fill="#9fb6d6"/>
<polygon points="788.27,268.51 792.71,270.67 792.71,267.04 788.27,264.88" fill="#f1c777"/>
<polygon points="792.71,270.67 800.22,265.71 800.22,262.08 792.71,267.04" fill="#e8b862"/>
<polygon points="788.27,264.88 795.78,259.93 800.22,262.08 792.71,267.04" fill="#fbe0a8"/>
<ellipse cx="790.91" cy="267.70" rx="0.55" ry="0.70" fill="#9fb6d6"/>
<line x1="795.24" y1="296.33" x2="795.24" y2="265.33" stroke="#b8403c" stroke-width="1.25"/>
<line x1="804.84" y1="289.99" x2="804.84" y2="258.99" stroke="#b8403c" stroke-width="1.25"/>
<line x1="795.24" y1="296.33" x2="804.84" y2="282.24" stroke="#d9564f" stroke-width="0.8"/>
<line x1="795.24" y1="288.58" x2="804.84" y2="289.99" stroke="#d9564f" stroke-width="0.8"/>
<line x1="795.24" y1="288.58" x2="804.84" y2="282.24" stroke="#b8403c" stroke-width="0.8"/>
<line x1="795.24" y1="288.58" x2="804.84" y2="274.49" stroke="#d9564f" stroke-width="0.8"/>
<line x1="795.24" y1="280.83" x2="804.84" y2="282.24" stroke="#d9564f" stroke-width="0.8"/>
<line x1="795.24" y1="280.83" x2="804.84" y2="274.49" stroke="#b8403c" stroke-width="0.8"/>
<line x1="795.24" y1="280.83" x2="804.84" y2="266.74" stroke="#d9564f" stroke-width="0.8"/>
<line x1="795.24" y1="273.08" x2="804.84" y2="274.49" stroke="#d9564f" stroke-width="0.8"/>
<line x1="795.24" y1="273.08" x2="804.84" y2="266.74" stroke="#b8403c" stroke-width="0.8"/>
<line x1="795.24" y1="273.08" x2="804.84" y2="258.99" stroke="#d9564f" stroke-width="0.8"/>
<line x1="795.24" y1="265.33" x2="804.84" y2="266.74" stroke="#d9564f" stroke-width="0.8"/>
<line x1="795.24" y1="265.33" x2="804.84" y2="258.99" stroke="#b8403c" stroke-width="0.8"/>
<line x1="772.30" y1="285.20" x2="772.30" y2="254.20" stroke="#b8403c" stroke-width="1.2"/>
<ellipse cx="807.40" cy="272.10" rx="3.00" ry="1.50" fill="#b7d6de"/>
<polygon points="806.10,271.80 806.00,262.60 808.80,262.60 808.70,271.80 807.65,271.80 807.40,264.80 807.15,271.80" fill="#6a6e78"/>
<polygon points="805.80,263.00 805.40,256.20 809.40,256.20 809.00,263.00" fill="#3a3d45"/>
<polygon points="805.90,262.20 805.70,256.60 809.10,256.60 808.90,262.20" fill="#c7e03a"/>
<ellipse cx="807.40" cy="254.50" rx="1.40" ry="1.60" fill="#e8b48c"/>
<path d="M805.70 254.20 a1.70 1.80 0 0 1 3.40 0 Z" fill="#f5c32c"/>
<polygon points="806.87,273.71 817.72,266.55 828.51,271.79 817.66,278.95" fill="#b7d6de" opacity="0.9"/>
<polygon points="808.60,273.60 817.60,277.96 817.60,276.36 808.60,272.00" fill="#dfe5e9"/>
<polygon points="817.60,277.96 826.36,272.18 826.36,270.58 817.60,276.36" fill="#cfd7dc"/>
<polygon points="808.60,272.00 817.36,266.22 826.36,270.58 817.60,276.36" fill="#f7f9fa"/>
<polygon points="812.42,271.75 817.81,274.37 817.81,267.37 812.42,264.75" fill="#f1c777"/>
<polygon points="817.81,274.37 822.82,271.06 822.82,264.06 817.81,267.37" fill="#e8b862"/>
<polygon points="812.42,264.75 817.42,261.44 822.82,264.06 817.81,267.37" fill="#fbe0a8"/>
<ellipse cx="815.59" cy="269.34" rx="0.55" ry="0.70" fill="#9fb6d6"/>
<line x1="821.60" y1="262.00" x2="821.60" y2="270.50" stroke="#9aa3ab" stroke-width="0.7"/>
<polygon points="819.40,260.20 823.40,262.40 823.40,264.40 819.40,262.20" fill="#2f5aa8"/>
<ellipse cx="853.60" cy="281.50" rx="3.00" ry="1.50" fill="#b7d6de"/>
<polygon points="852.30,281.20 852.20,272.00 855.00,272.00 854.90,281.20 853.85,281.20 853.60,274.20 853.35,281.20" fill="#6a6e78"/>
<polygon points="852.00,272.40 851.60,265.60 855.60,265.60 855.20,272.40" fill="#d2303a"/>
<ellipse cx="853.60" cy="263.90" rx="1.40" ry="1.60" fill="#e8b48c"/>
<path d="M851.90 263.60 a1.70 1.80 0 0 1 3.40 0 Z" fill="#f5c32c"/>
<polygon points="880.65,302.90 912.36,281.97 922.71,286.99 891.00,307.92" fill="#b7d6de" opacity="0.9"/>
<polygon points="884.54,302.39 890.38,305.23 890.38,296.13 884.54,293.29" fill="#c3dbe4"/>
<polygon points="890.38,305.23 917.93,287.05 917.93,277.95 890.38,296.13" fill="#b3d0db"/>
<polygon points="884.54,293.29 912.08,275.12 917.93,277.95 890.38,296.13" fill="#cfe3ea"/>
<line x1="890.58" y1="305.61" x2="890.58" y2="296.31" stroke="#eef5f8" stroke-width="0.9"/>
<line x1="899.93" y1="299.45" x2="899.93" y2="290.15" stroke="#eef5f8" stroke-width="0.9"/>
<line x1="909.28" y1="293.28" x2="909.28" y2="283.98" stroke="#eef5f8" stroke-width="0.9"/>
<line x1="918.63" y1="287.11" x2="918.63" y2="277.81" stroke="#eef5f8" stroke-width="0.9"/>
<polygon points="883.25,293.63 890.00,296.90 890.00,295.10 883.25,291.83" fill="#22262b"/>
<polygon points="890.00,296.90 919.21,277.62 919.21,275.82 890.00,295.10" fill="#2c3036"/>
<polygon points="883.25,291.83 912.46,272.55 919.21,275.82 890.00,295.10" fill="#3b4046"/>
<line x1="893.44" y1="294.15" x2="897.11" y2="291.73" stroke="#cfd6dc" stroke-width="1.1"/>
<line x1="902.79" y1="287.98" x2="906.46" y2="285.56" stroke="#cfd6dc" stroke-width="1.1"/>
<line x1="912.13" y1="281.81" x2="915.81" y2="279.39" stroke="#cfd6dc" stroke-width="1.1"/>
<ellipse cx="887.60" cy="279.70" rx="3.00" ry="1.50" fill="#b7d6de"/>
<polygon points="886.30,279.40 886.20,270.20 889.00,270.20 888.90,279.40 887.85,279.40 887.60,272.40 887.35,279.40" fill="#6a6e78"/>
<polygon points="886.00,270.60 885.60,263.80 889.60,263.80 889.20,270.60" fill="#d2303a"/>
<ellipse cx="887.60" cy="262.10" rx="1.40" ry="1.60" fill="#e8b48c"/>
<path d="M885.90 261.80 a1.70 1.80 0 0 1 3.40 0 Z" fill="#f5c32c"/>
<polygon points="889.60,270.20 893.38,272.03 893.38,267.63 889.60,265.80" fill="#f1c777"/>
<polygon points="893.38,272.03 897.22,269.50 897.22,265.10 893.38,267.63" fill="#e8b862"/>
<polygon points="889.60,265.80 893.44,263.27 897.22,265.10 893.38,267.63" fill="#fbe0a8"/>
<ellipse cx="891.88" cy="268.79" rx="0.55" ry="0.70" fill="#9fb6d6"/>
<ellipse cx="896.20" cy="281.90" rx="3.00" ry="1.50" fill="#b7d6de"/>
<polygon points="894.90,281.60 894.80,272.40 897.60,272.40 897.50,281.60 896.45,281.60 896.20,274.60 895.95,281.60" fill="#6a6e78"/>
<polygon points="894.60,272.80 894.20,266.00 898.20,266.00 897.80,272.80" fill="#8a8d94"/>
<ellipse cx="896.20" cy="264.30" rx="1.40" ry="1.60" fill="#e8b48c"/>
<path d="M894.70 264.00 a1.50 1.60 0 0 1 3.00 0 Z" fill="#2b2b30"/>
<polygon points="904.07,295.11 925.77,280.79 943.76,289.52 922.06,303.84" fill="#b7d6de" opacity="0.9"/>
<polygon points="905.80,295.00 913.90,298.93 913.90,293.43 905.80,289.50" fill="#f1c777"/>
<polygon points="913.90,298.93 921.41,293.97 921.41,288.47 913.90,293.43" fill="#e8b862"/>
<polygon points="905.80,289.50 913.31,284.54 921.41,288.47 913.90,293.43" fill="#fbe0a8"/>
<ellipse cx="910.45" cy="294.14" rx="0.55" ry="0.70" fill="#9fb6d6"/>
<polygon points="913.73,289.77 921.83,293.69 921.83,288.19 913.73,284.27" fill="#f1c777"/>
<polygon points="921.83,293.69 929.34,288.74 929.34,283.24 921.83,288.19" fill="#e8b862"/>
<polygon points="913.73,284.27 921.24,279.31 929.34,283.24 921.83,288.19" fill="#fbe0a8"/>
<ellipse cx="918.38" cy="288.90" rx="0.55" ry="0.70" fill="#9fb6d6"/>
<polygon points="910.04,287.73 917.24,291.22 917.24,286.62 910.04,283.13" fill="#f1c777"/>
<polygon points="917.24,291.22 924.75,286.27 924.75,281.67 917.24,286.62" fill="#e8b862"/>
<polygon points="910.04,283.13 917.55,278.18 924.75,281.67 917.24,286.62" fill="#fbe0a8"/>
<ellipse cx="914.20" cy="287.12" rx="0.55" ry="0.70" fill="#9fb6d6"/>
<polygon points="915.63,298.81 923.73,302.74 923.73,294.24 915.63,290.31" fill="#f1c777"/>
<polygon points="923.73,302.74 931.24,297.78 931.24,289.28 923.73,294.24" fill="#e8b862"/>
<polygon points="915.63,290.31 923.14,285.36 931.24,289.28 923.73,294.24" fill="#fbe0a8"/>
<ellipse cx="920.29" cy="296.30" rx="0.55" ry="0.70" fill="#9fb6d6"/>
<polygon points="923.98,293.31 932.08,297.23 932.08,287.73 923.98,283.81" fill="#f1c777"/>
<polygon points="932.08,297.23 940.01,292.00 940.01,282.50 932.08,287.73" fill="#e8b862"/>
<polygon points="923.98,283.81 931.91,278.57 940.01,282.50 932.08,287.73" fill="#fbe0a8"/>
<ellipse cx="928.63" cy="290.24" rx="0.55" ry="0.70" fill="#9fb6d6"/>
<polygon points="852.27,295.61 866.45,286.25 878.15,291.92 863.96,301.29" fill="#b7d6de" opacity="0.9"/>
<polygon points="855.67,292.90 862.87,296.39 862.87,292.39 855.67,288.90" fill="#f1c777"/>
<polygon points="862.87,296.39 871.21,290.88 871.21,286.88 862.87,292.39" fill="#e8b862"/>
<polygon points="855.67,288.90 864.02,283.39 871.21,286.88 862.87,292.39" fill="#fbe0a8"/>
<ellipse cx="859.83" cy="292.62" rx="0.55" ry="0.70" fill="#9fb6d6"/>
<polygon points="857.82,288.51 863.22,291.13 863.22,287.53 857.82,284.91" fill="#f1c777"/>
<polygon points="863.22,291.13 869.06,287.27 869.06,283.67 863.22,287.53" fill="#e8b862"/>
<polygon points="857.82,284.91 863.66,281.05 869.06,283.67 863.22,287.53" fill="#fbe0a8"/>
<ellipse cx="860.99" cy="287.97" rx="0.55" ry="0.70" fill="#9fb6d6"/>
<line x1="855.10" y1="298.30" x2="867.61" y2="290.04" stroke="#e0463c" stroke-width="1.5"/>
<line x1="860.04" y1="300.70" x2="872.56" y2="292.44" stroke="#e0463c" stroke-width="1.5"/>
<line x1="867.61" y1="290.04" x2="867.61" y2="277.14" stroke="#e0463c" stroke-width="1.6"/>
<line x1="865.36" y1="276.55" x2="870.76" y2="279.16" stroke="#e0463c" stroke-width="1.4"/>
<ellipse cx="871.40" cy="296.30" rx="3.00" ry="1.50" fill="#b7d6de"/>
<polygon points="870.10,296.00 870.00,286.80 872.80,286.80 872.70,296.00 871.65,296.00 871.40,289.00 871.15,296.00" fill="#6a6e78"/>
<polygon points="869.80,287.20 869.40,280.40 873.40,280.40 873.00,287.20" fill="#d2303a"/>
<ellipse cx="871.40" cy="278.70" rx="1.40" ry="1.60" fill="#e8b48c"/>
<path d="M869.70 278.40 a1.70 1.80 0 0 1 3.40 0 Z" fill="#f5c32c"/>
<polygon points="749.25,300.59 761.35,292.60 786.54,304.82 774.44,312.81" fill="#b7d6de" opacity="0.9"/>
<line x1="751.40" y1="300.20" x2="751.40" y2="268.20" stroke="#b8403c" stroke-width="1.25"/>
<line x1="761.00" y1="293.87" x2="761.00" y2="261.87" stroke="#b8403c" stroke-width="1.25"/>
<line x1="751.40" y1="300.20" x2="761.00" y2="285.87" stroke="#d9564f" stroke-width="0.8"/>
<line x1="751.40" y1="292.20" x2="761.00" y2="293.87" stroke="#d9564f" stroke-width="0.8"/>
<line x1="751.40" y1="292.20" x2="761.00" y2="285.87" stroke="#b8403c" stroke-width="0.8"/>
<line x1="751.40" y1="292.20" x2="761.00" y2="277.87" stroke="#d9564f" stroke-width="0.8"/>
<line x1="751.40" y1="284.20" x2="761.00" y2="285.87" stroke="#d9564f" stroke-width="0.8"/>
<line x1="751.40" y1="284.20" x2="761.00" y2="277.87" stroke="#b8403c" stroke-width="0.8"/>
<line x1="751.40" y1="284.20" x2="761.00" y2="269.87" stroke="#d9564f" stroke-width="0.8"/>
<line x1="751.40" y1="276.20" x2="761.00" y2="277.87" stroke="#d9564f" stroke-width="0.8"/>
<line x1="751.40" y1="276.20" x2="761.00" y2="269.87" stroke="#b8403c" stroke-width="0.8"/>
<line x1="751.40" y1="276.20" x2="761.00" y2="261.87" stroke="#d9564f" stroke-width="0.8"/>
<line x1="751.40" y1="268.20" x2="761.00" y2="269.87" stroke="#d9564f" stroke-width="0.8"/>
<line x1="751.40" y1="268.20" x2="761.00" y2="261.87" stroke="#b8403c" stroke-width="0.8"/>
<polygon points="751.40,299.00 773.89,309.91 773.89,309.01 751.40,298.10" fill="#e8ecef"/>
<polygon points="773.89,309.91 783.49,303.58 783.49,302.68 773.89,309.01" fill="#d8dee3"/>
<polygon points="751.40,298.10 761.00,291.77 783.49,302.68 773.89,309.01" fill="#ffffff"/>
<polygon points="753.13,297.99 757.80,300.25 757.80,294.56 753.13,292.30" fill="#f1c777"/>
<polygon points="757.80,300.25 765.31,295.29 765.31,289.60 757.80,294.56" fill="#e8b862"/>
<polygon points="753.13,292.30 760.65,287.34 765.31,289.60 757.80,294.56" fill="#fbe0a8"/>
<ellipse cx="755.90" cy="296.10" rx="0.55" ry="0.70" fill="#9fb6d6"/>
<polygon points="764.91,303.70 770.69,306.50 770.69,301.96 764.91,299.15" fill="#f1c777"/>
<polygon points="770.69,306.50 778.21,301.54 778.21,297.00 770.69,301.96" fill="#e8b862"/>
<polygon points="764.91,299.15 772.42,294.20 778.21,297.00 770.69,301.96" fill="#fbe0a8"/>
<ellipse cx="768.29" cy="302.74" rx="0.55" ry="0.70" fill="#9fb6d6"/>
<polygon points="751.40,291.62 773.89,302.54 773.89,301.63 751.40,290.72" fill="#e8ecef"/>
<polygon points="773.89,302.54 783.49,296.20 783.49,295.30 773.89,301.63" fill="#d8dee3"/>
<polygon points="751.40,290.72 761.00,284.39 783.49,295.30 773.89,301.63" fill="#ffffff"/>
<polygon points="753.13,290.61 757.70,292.83 757.70,287.44 753.13,285.22" fill="#f1c777"/>
<polygon points="757.70,292.83 765.21,287.87 765.21,282.48 757.70,287.44" fill="#e8b862"/>
<polygon points="753.13,285.22 760.65,280.26 765.21,282.48 757.70,287.44" fill="#fbe0a8"/>
<ellipse cx="755.85" cy="288.86" rx="0.55" ry="0.70" fill="#9fb6d6"/>
<polygon points="758.78,293.35 762.88,295.34 762.88,291.23 758.78,289.24" fill="#f1c777"/>
<polygon points="762.88,295.34 770.39,290.38 770.39,286.27 762.88,291.23" fill="#e8b862"/>
<polygon points="758.78,289.24 766.29,284.28 770.39,286.27 762.88,291.23" fill="#fbe0a8"/>
<ellipse cx="761.24" cy="292.18" rx="0.55" ry="0.70" fill="#9fb6d6"/>
<polygon points="764.98,296.36 770.06,298.82 770.06,295.06 764.98,292.60" fill="#f1c777"/>
<polygon points="770.06,298.82 777.57,293.86 777.57,290.10 770.06,295.06" fill="#e8b862"/>
<polygon points="764.98,292.60 772.49,287.64 777.57,290.10 770.06,295.06" fill="#fbe0a8"/>
<ellipse cx="767.97" cy="295.64" rx="0.55" ry="0.70" fill="#9fb6d6"/>
<polygon points="751.40,284.25 773.89,295.16 773.89,294.26 751.40,283.35" fill="#e8ecef"/>
<polygon points="773.89,295.16 783.49,288.83 783.49,287.93 773.89,294.26" fill="#d8dee3"/>
<polygon points="751.40,283.35 761.00,277.02 783.49,287.93 773.89,294.26" fill="#ffffff"/>
<polygon points="753.13,283.24 757.35,285.28 757.35,280.37 753.13,278.32" fill="#f1c777"/>
<polygon points="757.35,285.28 764.87,280.32 764.87,275.41 757.35,280.37" fill="#e8b862"/>
<polygon points="753.13,278.32 760.65,273.37 764.87,275.41 757.35,280.37" fill="#fbe0a8"/>
<ellipse cx="755.66" cy="281.66" rx="0.55" ry="0.70" fill="#9fb6d6"/>
<polygon points="759.08,286.12 764.05,288.53 764.05,283.46 759.08,281.05" fill="#f1c777"/>
<polygon points="764.05,288.53 771.56,283.57 771.56,278.50 764.05,283.46" fill="#e8b862"/>
<polygon points="759.08,281.05 766.60,276.09 771.56,278.50 764.05,283.46" fill="#fbe0a8"/>
<ellipse cx="762.01" cy="284.66" rx="0.55" ry="0.70" fill="#9fb6d6"/>
<polygon points="765.76,289.36 772.24,292.50 772.24,287.68 765.76,284.54" fill="#f1c777"/>
<polygon points="772.24,292.50 779.75,287.55 779.75,282.72 772.24,287.68" fill="#e8b862"/>
<polygon points="765.76,284.54 773.27,279.58 779.75,282.72 772.24,287.68" fill="#fbe0a8"/>
<ellipse cx="769.53" cy="288.44" rx="0.55" ry="0.70" fill="#9fb6d6"/>
<polygon points="751.40,276.88 773.89,287.79 773.89,286.88 751.40,275.97" fill="#e8ecef"/>
<polygon points="773.89,287.79 783.49,281.45 783.49,280.55 773.89,286.88" fill="#d8dee3"/>
<polygon points="751.40,275.97 761.00,269.64 783.49,280.55 773.89,286.88" fill="#ffffff"/>
<polygon points="753.13,275.86 759.74,279.06 759.74,274.45 753.13,271.25" fill="#f1c777"/>
<polygon points="759.74,279.06 767.25,274.11 767.25,269.49 759.74,274.45" fill="#e8b862"/>
<polygon points="753.13,271.25 760.65,266.29 767.25,269.49 759.74,274.45" fill="#fbe0a8"/>
<ellipse cx="756.97" cy="275.09" rx="0.55" ry="0.70" fill="#9fb6d6"/>
<polygon points="768.67,283.40 773.68,285.83 773.68,280.33 768.67,277.90" fill="#f1c777"/>
<polygon points="773.68,285.83 781.20,280.87 781.20,275.37 773.68,280.33" fill="#e8b862"/>
<polygon points="768.67,277.90 776.18,272.94 781.20,275.37 773.68,280.33" fill="#fbe0a8"/>
<ellipse cx="771.63" cy="281.71" rx="0.55" ry="0.70" fill="#9fb6d6"/>
<line x1="773.89" y1="311.11" x2="773.89" y2="279.11" stroke="#b8403c" stroke-width="1.25"/>
<line x1="783.49" y1="304.78" x2="783.49" y2="272.78" stroke="#b8403c" stroke-width="1.25"/>
<line x1="773.89" y1="311.11" x2="783.49" y2="296.78" stroke="#d9564f" stroke-width="0.8"/>
<line x1="773.89" y1="303.11" x2="783.49" y2="304.78" stroke="#d9564f" stroke-width="0.8"/>
<line x1="773.89" y1="303.11" x2="783.49" y2="296.78" stroke="#b8403c" stroke-width="0.8"/>
<line x1="773.89" y1="303.11" x2="783.49" y2="288.78" stroke="#d9564f" stroke-width="0.8"/>
<line x1="773.89" y1="295.11" x2="783.49" y2="296.78" stroke="#d9564f" stroke-width="0.8"/>
<line x1="773.89" y1="295.11" x2="783.49" y2="288.78" stroke="#b8403c" stroke-width="0.8"/>
<line x1="773.89" y1="295.11" x2="783.49" y2="280.78" stroke="#d9564f" stroke-width="0.8"/>
<line x1="773.89" y1="287.11" x2="783.49" y2="288.78" stroke="#d9564f" stroke-width="0.8"/>
<line x1="773.89" y1="287.11" x2="783.49" y2="280.78" stroke="#b8403c" stroke-width="0.8"/>
<line x1="773.89" y1="287.11" x2="783.49" y2="272.78" stroke="#d9564f" stroke-width="0.8"/>
<line x1="773.89" y1="279.11" x2="783.49" y2="280.78" stroke="#d9564f" stroke-width="0.8"/>
<line x1="773.89" y1="279.11" x2="783.49" y2="272.78" stroke="#b8403c" stroke-width="0.8"/>
<line x1="751.40" y1="300.20" x2="751.40" y2="268.20" stroke="#b8403c" stroke-width="1.2"/>
<ellipse cx="786.60" cy="295.30" rx="3.00" ry="1.50" fill="#b7d6de"/>
<polygon points="785.30,295.00 785.20,285.80 788.00,285.80 787.90,295.00 786.85,295.00 786.60,288.00 786.35,295.00" fill="#4a4d55"/>
<polygon points="785.00,286.20 784.60,279.40 788.60,279.40 788.20,286.20" fill="#4a4d55"/>
<ellipse cx="786.60" cy="277.70" rx="1.40" ry="1.60" fill="#e8b48c"/>
<path d="M785.10 277.40 a1.50 1.60 0 0 1 3.00 0 Z" fill="#2b2b30"/>
<polygon points="779.27,312.11 796.79,300.55 808.49,306.22 790.96,317.79" fill="#b7d6de" opacity="0.9"/>
<polygon points="788.51,307.04 796.61,310.97 796.61,304.47 788.51,300.54" fill="#f1c777"/>
<polygon points="796.61,310.97 804.12,306.01 804.12,299.51 796.61,304.47" fill="#e8b862"/>
<polygon points="788.51,300.54 796.02,295.59 804.12,299.51 796.61,304.47" fill="#fbe0a8"/>
<ellipse cx="793.17" cy="305.63" rx="0.55" ry="0.70" fill="#9fb6d6"/>
<polygon points="781.00,312.00 789.55,316.15 789.55,306.65 781.00,302.50" fill="#f1c777"/>
<polygon points="789.55,316.15 797.48,310.91 797.48,301.41 789.55,306.65" fill="#e8b862"/>
<polygon points="781.00,302.50 788.93,297.27 797.48,301.41 789.55,306.65" fill="#fbe0a8"/>
<ellipse cx="785.90" cy="309.06" rx="0.55" ry="0.70" fill="#9fb6d6"/>
<polygon points="795.77,321.11 813.29,309.55 824.99,315.22 807.46,326.79" fill="#b7d6de" opacity="0.9"/>
<polygon points="805.01,316.04 812.21,319.53 812.21,313.03 805.01,309.54" fill="#f1c777"/>
<polygon points="812.21,319.53 819.72,314.58 819.72,308.08 812.21,313.03" fill="#e8b862"/>
<polygon points="805.01,309.54 812.52,304.59 819.72,308.08 812.21,313.03" fill="#fbe0a8"/>
<ellipse cx="809.17" cy="314.39" rx="0.55" ry="0.70" fill="#9fb6d6"/>
<polygon points="797.50,321.00 806.05,325.15 806.05,316.65 797.50,312.50" fill="#f1c777"/>
<polygon points="806.05,325.15 813.98,319.91 813.98,311.41 806.05,316.65" fill="#e8b862"/>
<polygon points="797.50,312.50 805.43,307.27 813.98,311.41 806.05,316.65" fill="#fbe0a8"/>
<ellipse cx="802.40" cy="318.61" rx="0.55" ry="0.70" fill="#9fb6d6"/>
<polygon points="829.43,320.67 841.12,312.95 864.51,324.30 852.83,332.01" fill="#b7d6de" opacity="0.9"/>
<polygon points="831.40,320.16 839.71,324.96 839.71,318.16 831.40,313.36" fill="#f4bd2a"/>
<polygon points="839.71,324.96 846.64,320.96 846.64,314.16 839.71,318.16" fill="#dda21c"/>
<polygon points="831.40,313.36 838.33,309.36 846.64,314.16 839.71,318.16" fill="#fbd34a"/>
<polygon points="839.71,324.96 844.56,327.76 844.56,324.96 839.71,322.16" fill="#1f1f24"/>
<polygon points="844.56,327.76 851.49,323.76 851.49,320.96 844.56,324.96" fill="#2a2a2e"/>
<polygon points="839.71,322.16 846.64,318.16 851.49,320.96 844.56,324.96" fill="#34343a"/>
<polygon points="839.37,319.96 842.83,321.96 842.83,317.56 839.37,315.56" fill="#1f1f24"/>
<polygon points="842.83,321.96 846.30,319.96 846.30,315.56 842.83,317.56" fill="#2b2b30"/>
<polygon points="839.37,315.56 842.83,313.56 846.30,315.56 842.83,317.56" fill="#3a3a40"/>
<polygon points="838.81,314.52 839.30,314.80 839.30,304.00 838.81,303.72" fill="#1a1a1a"/>
<polygon points="839.30,314.80 839.78,314.52 839.78,303.72 839.30,304.00" fill="#222"/>
<polygon points="838.81,303.72 839.30,303.44 839.78,303.72 839.30,304.00" fill="#333"/>
<polygon points="849.55,320.72 850.04,321.00 850.04,310.20 849.55,309.92" fill="#1a1a1a"/>
<polygon points="850.04,321.00 850.52,320.72 850.52,309.92 850.04,310.20" fill="#222"/>
<polygon points="849.55,309.92 850.04,309.64 850.52,309.92 850.04,310.20" fill="#333"/>
<polygon points="832.51,314.16 832.99,314.44 832.99,307.64 832.51,307.36" fill="#1a1a1a"/>
<polygon points="832.99,314.44 833.48,314.16 833.48,307.36 832.99,307.64" fill="#222"/>
<polygon points="832.51,307.36 832.99,307.08 833.48,307.36 832.99,307.64" fill="#333"/>
<polygon points="843.25,324.36 843.73,324.64 843.73,313.84 843.25,313.56" fill="#1a1a1a"/>
<polygon points="843.73,324.64 844.22,324.36 844.22,313.56 843.73,313.84" fill="#222"/>
<polygon points="843.25,313.56 843.73,313.28 844.22,313.56 843.73,313.84" fill="#333"/>
<polygon points="831.75,307.00 843.52,313.80 843.52,313.00 831.75,306.20" fill="#2a2a2e"/>
<polygon points="843.52,313.80 850.45,309.80 850.45,309.00 843.52,313.00" fill="#333337"/>
<polygon points="831.75,306.20 838.67,302.20 850.45,309.00 843.52,313.00" fill="#4a4a4e"/>
<ellipse cx="843.52" cy="312.04" rx="0.72" ry="0.56" fill="#f39a1e"/>
<ellipse cx="849.07" cy="308.84" rx="0.72" ry="0.56" fill="#f39a1e"/>
<ellipse cx="833.34" cy="320.88" rx="1.84" ry="2.10" fill="#1b1b1f"/>
<ellipse cx="833.14" cy="320.88" rx="0.90" ry="1.10" fill="#d9d9d9"/>
<ellipse cx="842.69" cy="326.12" rx="1.99" ry="2.27" fill="#1b1b1f"/>
<ellipse cx="842.48" cy="326.12" rx="0.97" ry="1.19" fill="#d9d9d9"/>
<polygon points="845.60,328.04 846.64,328.64 846.64,311.04 845.60,310.44" fill="#1e1e22"/>
<polygon points="846.64,328.64 847.68,328.04 847.68,310.44 846.64,311.04" fill="#2a2a2e"/>
<polygon points="845.60,310.44 846.64,309.84 847.68,310.44 846.64,311.04" fill="#3a3a3e"/>
<polygon points="849.83,325.60 850.87,326.20 850.87,308.60 849.83,308.00" fill="#1e1e22"/>
<polygon points="850.87,326.20 851.91,325.60 851.91,308.00 850.87,308.60" fill="#2a2a2e"/>
<polygon points="849.83,308.00 850.87,307.40 851.91,308.00 850.87,308.60" fill="#3a3a3e"/>
<polygon points="845.60,311.64 846.64,312.24 846.64,311.04 845.60,310.44" fill="#1e1e22"/>
<polygon points="846.64,312.24 851.91,309.20 851.91,308.00 846.64,311.04" fill="#2a2a2e"/>
<polygon points="845.60,310.44 850.87,307.40 851.91,308.00 846.64,311.04" fill="#3a3a3e"/>
<polygon points="845.60,319.24 846.43,319.72 846.43,318.76 845.60,318.28" fill="#1e1e22"/>
<polygon points="846.43,319.72 851.70,316.68 851.70,315.72 846.43,318.76" fill="#2a2a2e"/>
<polygon points="845.60,318.28 850.87,315.24 851.70,315.72 846.43,318.76" fill="#3a3a3e"/>
<polygon points="846.99,328.52 852.88,331.92 852.88,331.36 846.99,327.96" fill="#e9c23a"/>
<polygon points="852.88,331.92 853.92,331.32 853.92,330.76 852.88,331.36" fill="#d8aa20"/>
<polygon points="846.99,327.96 848.03,327.36 853.92,330.76 852.88,331.36" fill="#f7d95a"/>
<polygon points="850.11,326.72 856.00,330.12 856.00,329.56 850.11,326.16" fill="#e9c23a"/>
<polygon points="856.00,330.12 857.03,329.52 857.03,328.96 856.00,329.56" fill="#d8aa20"/>
<polygon points="850.11,326.16 851.15,325.56 857.03,328.96 856.00,329.56" fill="#f7d95a"/>
<polygon points="848.00,328.20 855.65,331.91 855.65,326.41 848.00,322.70" fill="#f1c777"/>
<polygon points="855.65,331.91 862.74,327.23 862.74,321.73 855.65,326.41" fill="#e8b862"/>
<polygon points="848.00,322.70 855.09,318.02 862.74,321.73 855.65,326.41" fill="#fbe0a8"/>
<ellipse cx="852.41" cy="327.22" rx="0.55" ry="0.70" fill="#9fb6d6"/>
<polygon points="848.87,322.64 855.62,325.92 855.62,320.92 848.87,317.64" fill="#f1c777"/>
<polygon points="855.62,325.92 861.88,321.78 861.88,316.78 855.62,320.92" fill="#e8b862"/>
<polygon points="848.87,317.64 855.13,313.51 861.88,316.78 855.62,320.92" fill="#fbe0a8"/>
<ellipse cx="852.78" cy="321.69" rx="0.55" ry="0.70" fill="#9fb6d6"/>
<polygon points="744.80,256.20 748.40,254.00 748.40,299.00 744.80,301.20" fill="#c9e6ec"/>
<polygon points="676.80,221.40 709.10,226.40 744.90,256.20 745.00,301.00 678.50,268.60" fill="#d9202a"/>
<polygon points="678.50,266.20 745.00,298.60 745.00,301.20 678.50,268.80" fill="#b9d6e6"/>
<polygon points="687.40,239.40 695.00,243.00 695.00,254.20 687.40,250.60" fill="#e7f2fb"/>
<polygon points="688.30,240.80 694.10,243.60 694.10,252.80 688.30,250.00" fill="#bcd3ee"/>
<polygon points="700.00,245.60 707.60,249.20 707.60,260.40 700.00,256.80" fill="#e7f2fb"/>
<polygon points="700.90,247.00 706.70,249.80 706.70,259.00 700.90,256.20" fill="#bcd3ee"/>
<polygon points="712.60,252.00 720.20,255.60 720.20,266.80 712.60,263.20" fill="#e7f2fb"/>
<polygon points="713.50,253.40 719.30,256.20 719.30,265.40 713.50,262.60" fill="#bcd3ee"/>
<polygon points="725.40,258.40 733.00,262.00 733.00,273.20 725.40,269.60" fill="#e7f2fb"/>
<polygon points="726.30,259.80 732.10,262.60 732.10,271.80 726.30,269.00" fill="#bcd3ee"/>
<polygon points="689.40,260.60 697.60,264.60 697.60,276.60 689.40,272.60" fill="#37465f"/>
<polygon points="706.00,268.80 714.20,272.80 714.20,284.80 706.00,280.80" fill="#37465f"/>
<polygon points="722.80,277.00 731.00,281.00 731.00,293.00 722.80,289.00" fill="#37465f"/>
<polygon points="676.40,220.20 751.40,170.30 784.30,174.10 709.10,225.20" fill="#8fa9c9"/>
<polygon points="709.10,225.20 784.30,174.10 819.10,205.10 744.90,255.00" fill="#bccbe2"/>
<line x1="713.08" y1="228.51" x2="788.17" y2="177.54" stroke="#93a8c8" stroke-width="0.6"/>
<line x1="717.06" y1="231.82" x2="792.03" y2="180.99" stroke="#93a8c8" stroke-width="0.6"/>
<line x1="721.03" y1="235.13" x2="795.90" y2="184.43" stroke="#93a8c8" stroke-width="0.6"/>
<line x1="725.01" y1="238.44" x2="799.77" y2="187.88" stroke="#93a8c8" stroke-width="0.6"/>
<line x1="728.99" y1="241.76" x2="803.63" y2="191.32" stroke="#93a8c8" stroke-width="0.6"/>
<line x1="732.97" y1="245.07" x2="807.50" y2="194.77" stroke="#93a8c8" stroke-width="0.6"/>
<line x1="736.94" y1="248.38" x2="811.37" y2="198.21" stroke="#93a8c8" stroke-width="0.6"/>
<line x1="740.92" y1="251.69" x2="815.23" y2="201.66" stroke="#93a8c8" stroke-width="0.6"/>
<line x1="682.94" y1="221.20" x2="757.98" y2="171.06" stroke="#6f8db3" stroke-width="0.6"/>
<line x1="689.48" y1="222.20" x2="764.56" y2="171.82" stroke="#6f8db3" stroke-width="0.6"/>
<line x1="696.02" y1="223.20" x2="771.14" y2="172.58" stroke="#6f8db3" stroke-width="0.6"/>
<line x1="702.56" y1="224.20" x2="777.72" y2="173.34" stroke="#6f8db3" stroke-width="0.6"/>
<polygon points="676.40,220.20 709.10,225.20 744.90,255.00 744.90,257.00 709.10,227.40 676.40,222.20" fill="#a9c3e3"/>
<polygon points="744.90,255.00 819.10,205.10 819.10,207.00 744.90,257.40" fill="#3a67b0"/>
<polygon points="744.90,257.40 819.10,207.00 819.10,208.00 744.90,258.60" fill="#d9ecf2"/>
<line x1="593.10" y1="277.50" x2="593.10" y2="365.00" stroke="#1a1a1a" stroke-width="1.2"/>
<circle cx="593.10" cy="364.80" r="3.20" fill="#0a0a0a"/>
<line x1="608.00" y1="468.40" x2="808.50" y2="468.40" stroke="#1a1a1a" stroke-width="1.1"/>
<circle cx="608.40" cy="468.30" r="2.50" fill="#0a0a0a"/>
<defs><filter id="idf" filterUnits="userSpaceOnUse" x="0" y="0" width="1024" height="739" color-interpolation-filters="sRGB"><feColorMatrix type="matrix" values="1 0 0 0 0 0 1 0 0 0 0 0 1 0 0 0 0 0 1 0"/></filter></defs><g filter="url(#idf)">
<text x="177.20" y="167.00" textLength="72.00" lengthAdjust="spacingAndGlyphs" font-size="18.6" font-weight="700" fill="#d5161e" stroke="#d5161e" stroke-width="0.55" stroke-linejoin="round">Cliente</text>
<text x="175.70" y="189.90" textLength="93.50" lengthAdjust="spacingAndGlyphs" font-size="14.4" fill="#4b4b50" stroke="#4b4b50" stroke-width="0.32" stroke-linejoin="round">Genera la OC</text>
<text x="41.70" y="360.00" textLength="126.20" lengthAdjust="spacingAndGlyphs" font-size="18.6" font-weight="700" fill="#d5161e" stroke="#d5161e" stroke-width="0.55" stroke-linejoin="round">Proveedores</text>
<text x="39.70" y="380.70" textLength="172.80" lengthAdjust="spacingAndGlyphs" font-size="14.4" fill="#4b4b50" stroke="#4b4b50" stroke-width="0.32" stroke-linejoin="round">- Reciben OC y registran</text>
<text x="45.90" y="397.80" textLength="77.80" lengthAdjust="spacingAndGlyphs" font-size="14.4" fill="#4b4b50" stroke="#4b4b50" stroke-width="0.32" stroke-linejoin="round">las entrega</text>
<text x="39.70" y="415.00" textLength="173.50" lengthAdjust="spacingAndGlyphs" font-size="14.4" fill="#4b4b50" stroke="#4b4b50" stroke-width="0.32" stroke-linejoin="round">- Preparan el pedido y la</text>
<text x="45.90" y="432.00" textLength="109.80" lengthAdjust="spacingAndGlyphs" font-size="14.4" fill="#4b4b50" stroke="#4b4b50" stroke-width="0.32" stroke-linejoin="round">documentación</text>
<text x="39.70" y="449.20" textLength="120.50" lengthAdjust="spacingAndGlyphs" font-size="14.4" fill="#4b4b50" stroke="#4b4b50" stroke-width="0.32" stroke-linejoin="round">- Generan la ASN</text>
<text x="192.80" y="527.00" textLength="136.00" lengthAdjust="spacingAndGlyphs" font-size="14.4" fill="#4b4b50" stroke="#4b4b50" stroke-width="0.32" stroke-linejoin="round">Ingreso de Insumos</text>
<text x="192.40" y="543.60" textLength="110.50" lengthAdjust="spacingAndGlyphs" font-size="14.4" fill="#4b4b50" stroke="#4b4b50" stroke-width="0.32" stroke-linejoin="round">y Componentes</text>
<text x="334.00" y="330.00" textLength="145.00" lengthAdjust="spacingAndGlyphs" font-size="26" font-weight="700" fill="#d5161e" stroke="#d5161e" stroke-width="0.95" stroke-linejoin="round">Centro de</text>
<text x="302.70" y="357.00" textLength="206.80" lengthAdjust="spacingAndGlyphs" font-size="26" font-weight="700" fill="#d5161e" stroke="#d5161e" stroke-width="0.95" stroke-linejoin="round">Consolidación</text>
<text x="504.20" y="180.70" textLength="109.50" lengthAdjust="spacingAndGlyphs" font-size="18.6" font-weight="700" fill="#d5161e" stroke="#d5161e" stroke-width="0.55" stroke-linejoin="round">Transporte</text>
<text x="504.20" y="200.00" textLength="81.20" lengthAdjust="spacingAndGlyphs" font-size="18.6" font-weight="700" fill="#d5161e" stroke="#d5161e" stroke-width="0.55" stroke-linejoin="round">a Planta</text>
<text x="503.50" y="220.00" textLength="62.70" lengthAdjust="spacingAndGlyphs" font-size="14.4" fill="#4b4b50" stroke="#4b4b50" stroke-width="0.32" stroke-linejoin="round">Entregas</text>
<text x="503.50" y="236.30" textLength="93.50" lengthAdjust="spacingAndGlyphs" font-size="14.4" fill="#4b4b50" stroke="#4b4b50" stroke-width="0.32" stroke-linejoin="round">Programadas</text>
<text x="503.50" y="253.20" textLength="150.20" lengthAdjust="spacingAndGlyphs" font-size="14.4" fill="#4b4b50" stroke="#4b4b50" stroke-width="0.32" stroke-linejoin="round">Gestión de Urgencias</text>
<text x="503.50" y="269.50" textLength="118.20" lengthAdjust="spacingAndGlyphs" font-size="14.4" fill="#4b4b50" stroke="#4b4b50" stroke-width="0.32" stroke-linejoin="round">Logística Inversa</text>
<text x="805.40" y="140.50" textLength="64.30" lengthAdjust="spacingAndGlyphs" font-size="18.6" font-weight="700" fill="#d5161e" stroke="#d5161e" stroke-width="0.55" stroke-linejoin="round">Planta</text>
<text x="805.40" y="157.00" textLength="151.80" lengthAdjust="spacingAndGlyphs" font-size="14.4" fill="#4b4b50" stroke="#4b4b50" stroke-width="0.32" stroke-linejoin="round">Control y Aprobación</text>
<text x="805.40" y="173.70" textLength="96.30" lengthAdjust="spacingAndGlyphs" font-size="14.4" fill="#4b4b50" stroke="#4b4b50" stroke-width="0.32" stroke-linejoin="round">de Recepción</text>
<text x="817.20" y="474.50" textLength="144.00" lengthAdjust="spacingAndGlyphs" font-size="18.6" font-weight="700" fill="#d5161e" stroke="#d5161e" stroke-width="0.55" stroke-linejoin="round">Cross Docking</text>
<text x="817.20" y="493.70" textLength="117.00" lengthAdjust="spacingAndGlyphs" font-size="18.6" font-weight="700" fill="#d5161e" stroke="#d5161e" stroke-width="0.55" stroke-linejoin="round">y Despacho</text>
<text x="813.90" y="516.20" textLength="167.80" lengthAdjust="spacingAndGlyphs" font-size="14.4" fill="#4b4b50" stroke="#4b4b50" stroke-width="0.32" stroke-linejoin="round">Preparación de Pedidos</text>
<text x="813.90" y="533.00" textLength="149.00" lengthAdjust="spacingAndGlyphs" font-size="14.4" fill="#4b4b50" stroke="#4b4b50" stroke-width="0.32" stroke-linejoin="round">con códigos de barra</text>
<text x="634.20" y="599.00" textLength="206.50" lengthAdjust="spacingAndGlyphs" font-size="18.6" font-weight="700" fill="#d5161e" stroke="#d5161e" stroke-width="0.55" stroke-linejoin="round">Flujo de Información</text>
<text x="632.40" y="619.00" textLength="136.80" lengthAdjust="spacingAndGlyphs" font-size="14.4" fill="#4b4b50" stroke="#4b4b50" stroke-width="0.32" stroke-linejoin="round">Order Management</text>
<text x="632.40" y="635.70" textLength="133.30" lengthAdjust="spacingAndGlyphs" font-size="14.4" fill="#4b4b50" stroke="#4b4b50" stroke-width="0.32" stroke-linejoin="round">Stocks Disponibles</text>
<text x="632.40" y="652.20" textLength="171.30" lengthAdjust="spacingAndGlyphs" font-size="14.4" fill="#4b4b50" stroke="#4b4b50" stroke-width="0.32" stroke-linejoin="round">Seguimiento de Pedidos</text>
<text x="632.40" y="669.00" textLength="198.30" lengthAdjust="spacingAndGlyphs" font-size="14.4" fill="#4b4b50" stroke="#4b4b50" stroke-width="0.32" stroke-linejoin="round">Indicadores de Performance</text>
<path d="M892.7 680.2 C897 676.5 901 673.5 905.4 671 C910.5 667.8 916 665.2 921.9 663.3 C927 661.5 932 660.6 937.1 660.2 C942 659.6 947 659.3 951.1 659.5 C955.5 659.8 958.8 660.7 961.2 662.1 C964.5 663.6 966.8 665.5 967.6 667.8 C968.3 670 967.8 672 966.3 673.5 C963.5 675.8 959.5 677.2 954.9 677.9 C954.6 676.4 954 675.2 953 674.1 C951.9 672.5 950.5 671.2 948.6 670.3 C946.4 669.4 943.8 669 940.9 669 C937.5 669 934 669.2 930.8 669.7 C926.8 670.4 923 671.5 919.4 672.9 C916.6 673.8 914 674.9 911.7 676 L912.8 678.6 Z" fill="#cf0a2c"/>
<path d="M998.1 668.4 L977.8 670.3 L980.3 673.5 C978.5 675 976.3 676.2 973.9 677.3 C970.8 678.8 967.4 679.8 963.8 680.5 C960 681.1 956 681.3 952.4 681.1 C948.6 680.8 945.2 680 942.2 678.6 C939.8 677.6 938 676.3 937.1 674.8 C936.4 673.8 936 672.7 935.9 671.6 C933 671.8 930.4 672.5 928.2 673.5 C925.6 674.7 924.1 676.2 923.8 677.9 C923.5 679.8 924.2 681.5 925.7 683 C927.8 685 930.8 686.5 934.6 687.5 C938.5 688.4 942.8 688.8 947.3 688.7 C952.5 688.6 957.6 688 962.5 686.8 C967.4 685.5 972.1 683.6 976.5 681.1 C981 678.9 985.2 676.6 989.2 674.1 C992.3 672.3 995.3 670.4 998.1 668.4 Z" fill="#5c5c5c"/>
<text x="891.2" y="715.2" textLength="107.3" lengthAdjust="spacingAndGlyphs" font-size="26.2" font-weight="700" stroke="#cf0a2c" stroke-width="0.7" fill="#cf0a2c">loginter</text>
</g>
</svg>
</body></html>
